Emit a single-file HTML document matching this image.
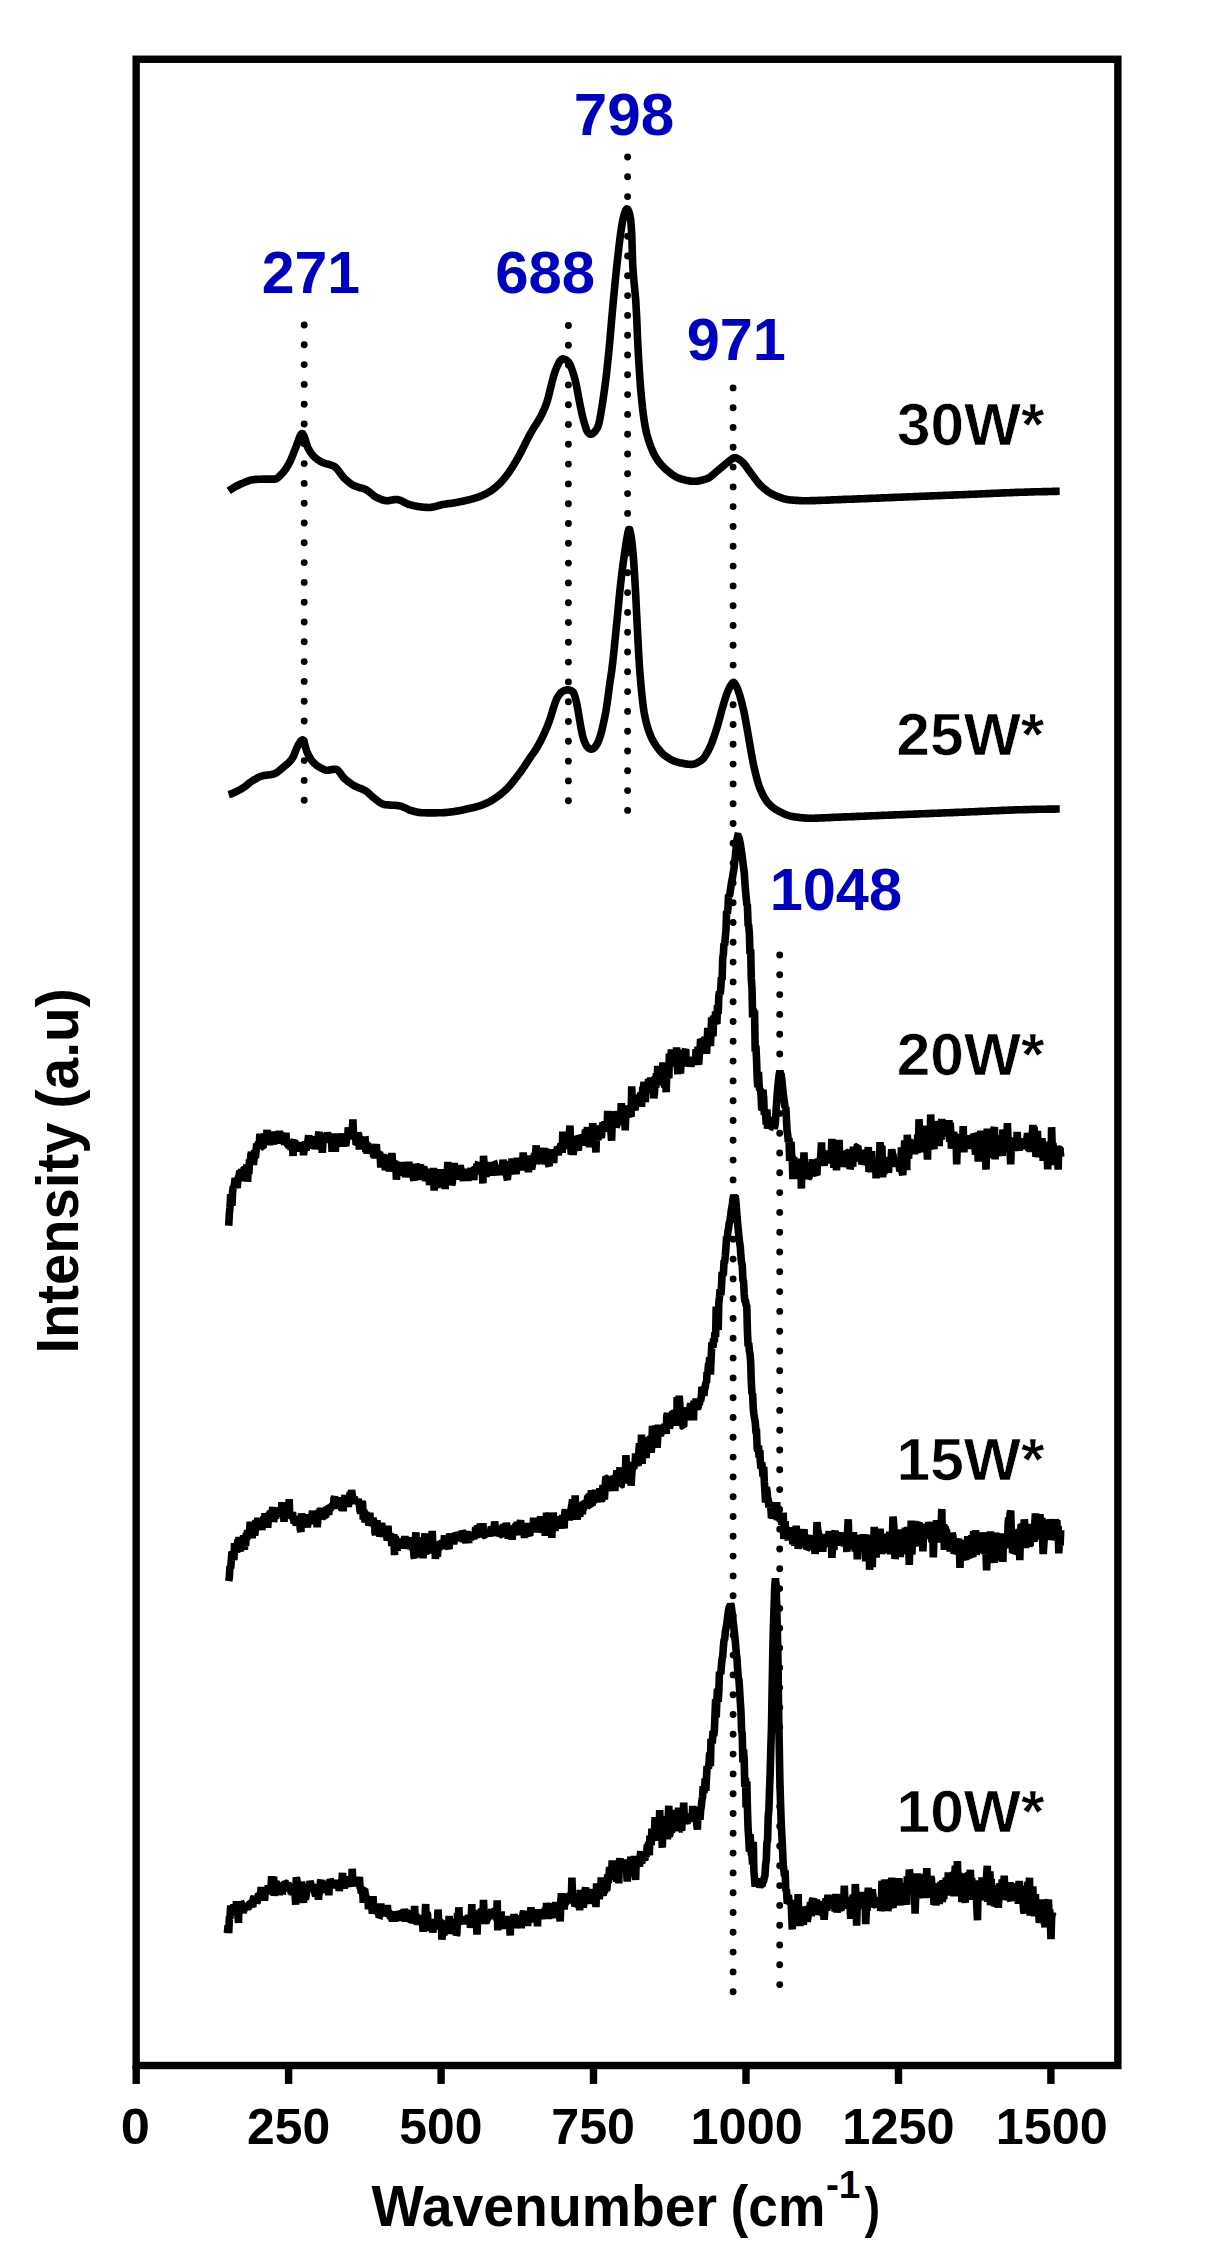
<!DOCTYPE html>
<html lang="en"><head><meta charset="utf-8"><title>Raman spectra</title>
<style>
html,body{margin:0;padding:0;background:#fff;}
svg{display:block;font-family:"Liberation Sans",sans-serif;}
</style></head><body>
<svg width="1205" height="2261" viewBox="0 0 1205 2261">
<rect x="0" y="0" width="1205" height="2261" fill="#fff"/>

<g id="guides">
<line x1="304.2" y1="325.0" x2="304.2" y2="800.21" stroke="#000" stroke-width="6.9" stroke-linecap="round" stroke-dasharray="0 19.8"/>
<line x1="568.4" y1="325.5" x2="568.4" y2="800.71" stroke="#000" stroke-width="6.9" stroke-linecap="round" stroke-dasharray="0 19.8"/>
<line x1="627.6" y1="157.0" x2="627.6" y2="810.41" stroke="#000" stroke-width="6.9" stroke-linecap="round" stroke-dasharray="0 19.8"/>
<line x1="733.1" y1="387.9" x2="733.1" y2="1991.71" stroke="#000" stroke-width="6.9" stroke-linecap="round" stroke-dasharray="0 19.8"/>
<line x1="779.7" y1="955.0" x2="779.7" y2="1984.61" stroke="#000" stroke-width="6.9" stroke-linecap="round" stroke-dasharray="0 19.8"/>
</g>
<g id="spectra" fill="none" stroke="#000" stroke-width="7.6" stroke-linejoin="round" stroke-linecap="butt">
<path d="M228.7,490.8 L229.7,490.1 L230.7,489.5 L231.7,488.9 L232.7,488.3 L233.7,487.7 L234.7,487.1 L235.7,486.5 L236.7,486.0 L237.7,485.5 L238.7,485.0 L239.7,484.5 L240.7,484.0 L241.7,483.6 L242.7,483.2 L243.7,482.8 L244.7,482.3 L245.7,481.9 L246.7,481.5 L247.7,481.1 L248.7,480.7 L249.7,480.4 L250.7,480.1 L251.7,479.9 L252.7,479.7 L253.7,479.6 L254.7,479.5 L255.7,479.4 L256.7,479.4 L257.7,479.3 L258.7,479.3 L259.7,479.2 L260.7,479.2 L261.7,479.1 L262.7,479.1 L263.7,479.1 L264.7,479.1 L265.7,479.1 L266.7,479.1 L267.7,479.1 L268.7,479.1 L269.7,479.1 L270.7,479.1 L271.7,479.1 L272.7,479.1 L273.7,479.1 L274.7,479.1 L275.7,478.9 L276.7,478.5 L277.7,477.8 L278.7,477.0 L279.7,476.0 L280.7,475.0 L281.7,473.9 L282.7,472.9 L283.7,471.7 L284.7,470.4 L285.7,469.0 L286.7,467.4 L287.7,465.8 L288.7,464.0 L289.7,462.2 L290.7,460.2 L291.7,457.8 L292.7,455.3 L293.7,452.7 L294.7,450.1 L295.7,447.7 L296.7,445.2 L297.7,442.3 L298.7,439.4 L299.7,436.8 L300.7,434.7 L301.7,433.6 L302.7,433.8 L303.7,435.4 L304.7,438.0 L305.7,441.2 L306.7,444.4 L307.7,447.2 L308.7,449.2 L309.7,451.0 L310.7,452.6 L311.7,454.0 L312.7,455.3 L313.7,456.3 L314.7,457.2 L315.7,458.1 L316.7,458.9 L317.7,459.7 L318.7,460.3 L319.7,461.0 L320.7,461.5 L321.7,462.1 L322.7,462.5 L323.7,462.9 L324.7,463.3 L325.7,463.6 L326.7,463.9 L327.7,464.1 L328.7,464.4 L329.7,464.7 L330.7,465.0 L331.7,465.3 L332.7,465.7 L333.7,466.2 L334.7,466.7 L335.7,467.5 L336.7,468.5 L337.7,469.6 L338.7,471.0 L339.7,472.4 L340.7,473.8 L341.7,475.1 L342.7,476.4 L343.7,477.6 L344.7,478.6 L345.7,479.5 L346.7,480.4 L347.7,481.2 L348.7,482.1 L349.7,482.9 L350.7,483.6 L351.7,484.3 L352.7,484.9 L353.7,485.5 L354.7,485.9 L355.7,486.3 L356.7,486.7 L357.7,487.0 L358.7,487.3 L359.7,487.6 L360.7,487.9 L361.7,488.1 L362.7,488.4 L363.7,488.7 L364.7,489.1 L365.7,489.5 L366.7,490.1 L367.7,490.7 L368.7,491.5 L369.7,492.3 L370.7,493.1 L371.7,493.9 L372.7,494.8 L373.7,495.6 L374.7,496.3 L375.7,496.9 L376.7,497.5 L377.7,497.9 L378.7,498.3 L379.7,498.8 L380.7,499.2 L381.7,499.6 L382.7,500.0 L383.7,500.3 L384.7,500.5 L385.7,500.6 L386.7,500.7 L387.7,500.7 L388.7,500.6 L389.7,500.5 L390.7,500.3 L391.7,500.1 L392.7,499.9 L393.7,499.8 L394.7,499.6 L395.7,499.5 L396.7,499.5 L397.7,499.6 L398.7,499.8 L399.7,500.1 L400.7,500.5 L401.7,500.9 L402.7,501.4 L403.7,502.0 L404.7,502.5 L405.7,503.1 L406.7,503.6 L407.7,504.0 L408.7,504.4 L409.7,504.6 L410.7,504.9 L411.7,505.2 L412.7,505.4 L413.7,505.6 L414.7,505.9 L415.7,506.1 L416.7,506.3 L417.7,506.5 L418.7,506.6 L419.7,506.8 L420.7,506.9 L421.7,507.0 L422.7,507.1 L423.7,507.2 L424.7,507.3 L425.7,507.4 L426.7,507.4 L427.7,507.5 L428.7,507.5 L429.7,507.5 L430.7,507.4 L431.7,507.3 L432.7,507.1 L433.7,506.9 L434.7,506.6 L435.7,506.4 L436.7,506.1 L437.7,505.8 L438.7,505.5 L439.7,505.2 L440.7,505.0 L441.7,504.7 L442.7,504.5 L443.7,504.4 L444.7,504.2 L445.7,504.1 L446.7,503.9 L447.7,503.8 L448.7,503.6 L449.7,503.5 L450.7,503.4 L451.7,503.2 L452.7,503.1 L453.7,502.9 L454.7,502.7 L455.7,502.6 L456.7,502.4 L457.7,502.2 L458.7,502.0 L459.7,501.8 L460.7,501.6 L461.7,501.4 L462.7,501.2 L463.7,501.0 L464.7,500.8 L465.7,500.6 L466.7,500.3 L467.7,500.1 L468.7,499.9 L469.7,499.6 L470.7,499.3 L471.7,499.1 L472.7,498.8 L473.7,498.5 L474.7,498.2 L475.7,497.9 L476.7,497.6 L477.7,497.3 L478.7,496.9 L479.7,496.5 L480.7,496.2 L481.7,495.7 L482.7,495.3 L483.7,494.8 L484.7,494.3 L485.7,493.8 L486.7,493.3 L487.7,492.7 L488.7,492.2 L489.7,491.6 L490.7,490.9 L491.7,490.3 L492.7,489.5 L493.7,488.8 L494.7,488.0 L495.7,487.2 L496.7,486.3 L497.7,485.4 L498.7,484.5 L499.7,483.5 L500.7,482.5 L501.7,481.4 L502.7,480.3 L503.7,479.1 L504.7,477.9 L505.7,476.6 L506.7,475.4 L507.7,474.0 L508.7,472.7 L509.7,471.2 L510.7,469.7 L511.7,468.2 L512.7,466.6 L513.7,465.0 L514.7,463.3 L515.7,461.7 L516.7,459.9 L517.7,458.2 L518.7,456.4 L519.7,454.5 L520.7,452.7 L521.7,450.8 L522.7,448.7 L523.7,446.7 L524.7,444.6 L525.7,442.6 L526.7,440.6 L527.7,438.7 L528.7,436.8 L529.7,434.9 L530.7,433.1 L531.7,431.4 L532.7,429.6 L533.7,427.9 L534.7,426.3 L535.7,424.8 L536.7,423.3 L537.7,421.7 L538.7,420.1 L539.7,418.3 L540.7,416.5 L541.7,414.6 L542.7,412.5 L543.7,410.3 L544.7,408.0 L545.7,405.5 L546.7,402.7 L547.7,399.5 L548.7,395.8 L549.7,391.7 L550.7,387.7 L551.7,383.6 L552.7,379.4 L553.7,375.7 L554.7,372.7 L555.7,369.9 L556.7,367.4 L557.7,365.2 L558.7,363.1 L559.7,361.3 L560.7,360.1 L561.7,359.3 L562.7,358.9 L563.7,359.0 L564.7,359.3 L565.7,359.7 L566.7,360.3 L567.7,361.2 L568.7,362.3 L569.7,363.9 L570.7,366.1 L571.7,368.8 L572.7,371.7 L573.7,374.8 L574.7,378.3 L575.7,382.2 L576.7,387.1 L577.7,392.5 L578.7,397.8 L579.7,403.0 L580.7,408.0 L581.7,412.6 L582.7,416.9 L583.7,420.8 L584.7,424.3 L585.7,427.6 L586.7,430.4 L587.7,432.1 L588.7,433.3 L589.7,434.1 L590.7,434.3 L591.7,434.0 L592.7,433.6 L593.7,432.9 L594.7,431.7 L595.7,430.5 L596.7,429.0 L597.7,427.2 L598.7,424.2 L599.7,419.8 L600.7,414.4 L601.7,408.4 L602.7,402.1 L603.7,395.1 L604.7,388.0 L605.7,380.6 L606.7,372.3 L607.7,362.6 L608.7,352.9 L609.7,342.4 L610.7,330.9 L611.7,319.1 L612.7,307.8 L613.7,297.1 L614.7,286.6 L615.7,276.5 L616.7,266.9 L617.7,257.8 L618.7,248.9 L619.7,240.4 L620.7,232.8 L621.7,226.4 L622.7,220.7 L623.7,216.0 L624.7,212.9 L625.7,210.4 L626.7,208.9 L627.7,209.3 L628.7,211.3 L629.7,214.3 L630.7,219.9 L631.7,232.7 L632.7,265.1 L633.7,279.0 L634.7,288.8 L635.7,299.7 L636.7,317.7 L637.7,341.7 L638.7,360.4 L639.7,376.3 L640.7,389.6 L641.7,400.2 L642.7,409.4 L643.7,417.4 L644.7,424.0 L645.7,429.2 L646.7,433.6 L647.7,437.4 L648.7,440.7 L649.7,443.6 L650.7,446.3 L651.7,448.8 L652.7,451.2 L653.7,453.4 L654.7,455.3 L655.7,457.1 L656.7,458.7 L657.7,460.2 L658.7,461.6 L659.7,462.9 L660.7,464.1 L661.7,465.2 L662.7,466.3 L663.7,467.3 L664.7,468.2 L665.7,469.2 L666.7,470.0 L667.7,470.9 L668.7,471.7 L669.7,472.5 L670.7,473.3 L671.7,474.1 L672.7,474.8 L673.7,475.5 L674.7,476.1 L675.7,476.7 L676.7,477.3 L677.7,477.7 L678.7,478.1 L679.7,478.5 L680.7,478.8 L681.7,479.1 L682.7,479.4 L683.7,479.6 L684.7,479.9 L685.7,480.2 L686.7,480.4 L687.7,480.6 L688.7,480.8 L689.7,481.0 L690.7,481.1 L691.7,481.2 L692.7,481.3 L693.7,481.3 L694.7,481.3 L695.7,481.2 L696.7,481.2 L697.7,481.0 L698.7,480.9 L699.7,480.7 L700.7,480.5 L701.7,480.2 L702.7,480.0 L703.7,479.7 L704.7,479.4 L705.7,479.1 L706.7,478.8 L707.7,478.4 L708.7,477.9 L709.7,477.3 L710.7,476.6 L711.7,475.8 L712.7,475.0 L713.7,474.1 L714.7,473.2 L715.7,472.3 L716.7,471.4 L717.7,470.6 L718.7,469.7 L719.7,468.9 L720.7,468.1 L721.7,467.3 L722.7,466.5 L723.7,465.6 L724.7,464.8 L725.7,463.9 L726.7,463.1 L727.7,462.3 L728.7,461.5 L729.7,460.6 L730.7,459.8 L731.7,459.1 L732.7,458.5 L733.7,458.0 L734.7,457.7 L735.7,457.7 L736.7,458.1 L737.7,458.6 L738.7,459.2 L739.7,459.8 L740.7,460.6 L741.7,461.4 L742.7,462.3 L743.7,463.3 L744.7,464.5 L745.7,465.8 L746.7,467.2 L747.7,468.6 L748.7,470.1 L749.7,471.5 L750.7,472.9 L751.7,474.2 L752.7,475.5 L753.7,476.8 L754.7,478.2 L755.7,479.5 L756.7,480.9 L757.7,482.1 L758.7,483.4 L759.7,484.5 L760.7,485.5 L761.7,486.5 L762.7,487.4 L763.7,488.2 L764.7,489.0 L765.7,489.8 L766.7,490.6 L767.7,491.3 L768.7,492.0 L769.7,492.7 L770.7,493.3 L771.7,493.9 L772.7,494.4 L773.7,494.9 L774.7,495.3 L775.7,495.7 L776.7,496.1 L777.7,496.5 L778.7,496.9 L779.7,497.3 L780.7,497.7 L781.7,498.0 L782.7,498.4 L783.7,498.7 L784.7,498.9 L785.7,499.2 L786.7,499.4 L787.7,499.6 L788.7,499.8 L789.7,499.9 L790.7,500.0 L791.7,500.0 L792.7,500.1 L793.7,500.2 L794.7,500.3 L795.7,500.4 L796.7,500.4 L797.7,500.5 L798.7,500.5 L799.7,500.6 L800.7,500.6 L801.7,500.7 L802.7,500.7 L803.7,500.7 L804.7,500.7 L805.7,500.7 L806.7,500.7 L807.7,500.7 L808.7,500.7 L809.7,500.7 L810.7,500.6 L811.7,500.6 L812.7,500.6 L813.7,500.6 L814.7,500.6 L815.7,500.5 L816.7,500.5 L817.7,500.5 L818.7,500.4 L819.7,500.4 L820.7,500.4 L821.7,500.3 L822.7,500.3 L823.7,500.3 L824.7,500.2 L825.7,500.2 L826.7,500.1 L827.7,500.1 L828.7,500.1 L829.7,500.0 L830.7,500.0 L831.7,499.9 L832.7,499.9 L833.7,499.8 L834.7,499.8 L835.7,499.8 L836.7,499.7 L837.7,499.7 L838.7,499.6 L839.7,499.6 L840.7,499.6 L841.7,499.5 L842.7,499.5 L843.7,499.4 L844.7,499.4 L845.7,499.4 L846.7,499.3 L847.7,499.3 L848.7,499.3 L849.7,499.2 L850.7,499.2 L851.7,499.2 L852.7,499.1 L853.7,499.1 L854.7,499.0 L855.7,499.0 L856.7,499.0 L857.7,498.9 L858.7,498.9 L859.7,498.8 L860.7,498.8 L861.7,498.8 L862.7,498.7 L863.7,498.7 L864.7,498.6 L865.7,498.6 L866.7,498.6 L867.7,498.5 L868.7,498.5 L869.7,498.4 L870.7,498.4 L871.7,498.4 L872.7,498.3 L873.7,498.3 L874.7,498.2 L875.7,498.2 L876.7,498.1 L877.7,498.1 L878.7,498.1 L879.7,498.0 L880.7,498.0 L881.7,497.9 L882.7,497.9 L883.7,497.9 L884.7,497.8 L885.7,497.8 L886.7,497.7 L887.7,497.7 L888.7,497.6 L889.7,497.6 L890.7,497.6 L891.7,497.5 L892.7,497.5 L893.7,497.4 L894.7,497.4 L895.7,497.4 L896.7,497.3 L897.7,497.3 L898.7,497.2 L899.7,497.2 L900.7,497.2 L901.7,497.1 L902.7,497.1 L903.7,497.0 L904.7,497.0 L905.7,497.0 L906.7,496.9 L907.7,496.9 L908.7,496.8 L909.7,496.8 L910.7,496.8 L911.7,496.7 L912.7,496.7 L913.7,496.6 L914.7,496.6 L915.7,496.6 L916.7,496.5 L917.7,496.5 L918.7,496.4 L919.7,496.4 L920.7,496.3 L921.7,496.3 L922.7,496.3 L923.7,496.2 L924.7,496.2 L925.7,496.1 L926.7,496.1 L927.7,496.1 L928.7,496.0 L929.7,496.0 L930.7,495.9 L931.7,495.9 L932.7,495.9 L933.7,495.8 L934.7,495.8 L935.7,495.7 L936.7,495.7 L937.7,495.7 L938.7,495.6 L939.7,495.6 L940.7,495.5 L941.7,495.5 L942.7,495.5 L943.7,495.4 L944.7,495.4 L945.7,495.3 L946.7,495.3 L947.7,495.3 L948.7,495.2 L949.7,495.2 L950.7,495.1 L951.7,495.1 L952.7,495.1 L953.7,495.0 L954.7,495.0 L955.7,494.9 L956.7,494.9 L957.7,494.9 L958.7,494.8 L959.7,494.8 L960.7,494.7 L961.7,494.7 L962.7,494.7 L963.7,494.6 L964.7,494.6 L965.7,494.5 L966.7,494.5 L967.7,494.5 L968.7,494.4 L969.7,494.4 L970.7,494.3 L971.7,494.3 L972.7,494.3 L973.7,494.2 L974.7,494.2 L975.7,494.1 L976.7,494.1 L977.7,494.0 L978.7,494.0 L979.7,494.0 L980.7,493.9 L981.7,493.9 L982.7,493.8 L983.7,493.8 L984.7,493.7 L985.7,493.7 L986.7,493.6 L987.7,493.6 L988.7,493.6 L989.7,493.5 L990.7,493.5 L991.7,493.4 L992.7,493.4 L993.7,493.3 L994.7,493.3 L995.7,493.2 L996.7,493.2 L997.7,493.2 L998.7,493.1 L999.7,493.1 L1000.7,493.0 L1001.7,493.0 L1002.7,492.9 L1003.7,492.9 L1004.7,492.9 L1005.7,492.8 L1006.7,492.8 L1007.7,492.7 L1008.7,492.7 L1009.7,492.7 L1010.7,492.6 L1011.7,492.6 L1012.7,492.5 L1013.7,492.5 L1014.7,492.5 L1015.7,492.4 L1016.7,492.4 L1017.7,492.4 L1018.7,492.3 L1019.7,492.3 L1020.7,492.3 L1021.7,492.2 L1022.7,492.2 L1023.7,492.2 L1024.7,492.1 L1025.7,492.1 L1026.7,492.1 L1027.7,492.0 L1028.7,492.0 L1029.7,492.0 L1030.7,492.0 L1031.7,491.9 L1032.7,491.9 L1033.7,491.9 L1034.7,491.8 L1035.7,491.8 L1036.7,491.8 L1037.7,491.8 L1038.7,491.7 L1039.7,491.7 L1040.7,491.7 L1041.7,491.7 L1042.7,491.6 L1043.7,491.6 L1044.7,491.6 L1045.7,491.6 L1046.7,491.6 L1047.7,491.5 L1048.7,491.5 L1049.7,491.5 L1050.7,491.5 L1051.7,491.5 L1052.7,491.4 L1053.7,491.4 L1054.7,491.4 L1055.7,491.4 L1056.7,491.4 L1057.7,491.3 L1058.7,491.3 L1059.7,491.3"/>
<path d="M228.7,794.6 L229.7,794.3 L230.7,794.0 L231.7,793.6 L232.7,793.2 L233.7,792.8 L234.7,792.3 L235.7,791.9 L236.7,791.4 L237.7,790.9 L238.7,790.4 L239.7,789.8 L240.7,789.3 L241.7,788.7 L242.7,788.1 L243.7,787.5 L244.7,786.8 L245.7,786.0 L246.7,785.2 L247.7,784.3 L248.7,783.5 L249.7,782.7 L250.7,782.0 L251.7,781.3 L252.7,780.7 L253.7,780.1 L254.7,779.5 L255.7,778.9 L256.7,778.3 L257.7,777.7 L258.7,777.2 L259.7,776.8 L260.7,776.4 L261.7,776.1 L262.7,775.8 L263.7,775.6 L264.7,775.4 L265.7,775.3 L266.7,775.2 L267.7,775.0 L268.7,774.9 L269.7,774.8 L270.7,774.7 L271.7,774.5 L272.7,774.3 L273.7,774.0 L274.7,773.7 L275.7,773.2 L276.7,772.6 L277.7,771.9 L278.7,771.1 L279.7,770.3 L280.7,769.5 L281.7,768.6 L282.7,767.8 L283.7,767.0 L284.7,766.1 L285.7,765.3 L286.7,764.5 L287.7,763.6 L288.7,762.6 L289.7,761.6 L290.7,760.4 L291.7,759.2 L292.7,757.7 L293.7,755.7 L294.7,753.3 L295.7,750.7 L296.7,748.2 L297.7,746.0 L298.7,744.3 L299.7,742.7 L300.7,741.2 L301.7,740.2 L302.7,739.8 L303.7,741.2 L304.7,744.3 L305.7,747.9 L306.7,751.2 L307.7,753.5 L308.7,755.5 L309.7,757.3 L310.7,759.0 L311.7,760.4 L312.7,761.6 L313.7,762.7 L314.7,763.6 L315.7,764.5 L316.7,765.4 L317.7,766.1 L318.7,766.7 L319.7,767.3 L320.7,767.9 L321.7,768.4 L322.7,768.9 L323.7,769.4 L324.7,769.8 L325.7,770.1 L326.7,770.2 L327.7,770.2 L328.7,770.1 L329.7,770.0 L330.7,769.8 L331.7,769.6 L332.7,769.5 L333.7,769.3 L334.7,769.2 L335.7,769.2 L336.7,769.4 L337.7,770.1 L338.7,771.1 L339.7,772.4 L340.7,773.8 L341.7,775.2 L342.7,776.5 L343.7,777.7 L344.7,778.7 L345.7,779.5 L346.7,780.4 L347.7,781.2 L348.7,782.0 L349.7,782.7 L350.7,783.4 L351.7,784.1 L352.7,784.8 L353.7,785.4 L354.7,786.0 L355.7,786.5 L356.7,786.9 L357.7,787.4 L358.7,787.8 L359.7,788.1 L360.7,788.5 L361.7,788.9 L362.7,789.3 L363.7,789.8 L364.7,790.3 L365.7,790.9 L366.7,791.5 L367.7,792.3 L368.7,793.2 L369.7,794.2 L370.7,795.1 L371.7,796.1 L372.7,797.0 L373.7,797.8 L374.7,798.6 L375.7,799.4 L376.7,800.1 L377.7,800.9 L378.7,801.7 L379.7,802.4 L380.7,803.0 L381.7,803.6 L382.7,804.0 L383.7,804.4 L384.7,804.6 L385.7,804.7 L386.7,804.8 L387.7,804.9 L388.7,805.0 L389.7,805.1 L390.7,805.1 L391.7,805.2 L392.7,805.2 L393.7,805.3 L394.7,805.3 L395.7,805.4 L396.7,805.5 L397.7,805.6 L398.7,805.7 L399.7,805.9 L400.7,806.1 L401.7,806.4 L402.7,806.8 L403.7,807.3 L404.7,807.7 L405.7,808.2 L406.7,808.7 L407.7,809.2 L408.7,809.7 L409.7,810.1 L410.7,810.4 L411.7,810.7 L412.7,811.0 L413.7,811.3 L414.7,811.5 L415.7,811.8 L416.7,812.0 L417.7,812.2 L418.7,812.4 L419.7,812.5 L420.7,812.6 L421.7,812.7 L422.7,812.7 L423.7,812.8 L424.7,812.8 L425.7,812.8 L426.7,812.9 L427.7,812.9 L428.7,812.9 L429.7,812.9 L430.7,812.9 L431.7,812.9 L432.7,812.9 L433.7,812.9 L434.7,812.9 L435.7,812.9 L436.7,812.8 L437.7,812.8 L438.7,812.8 L439.7,812.8 L440.7,812.7 L441.7,812.7 L442.7,812.7 L443.7,812.6 L444.7,812.6 L445.7,812.5 L446.7,812.4 L447.7,812.3 L448.7,812.2 L449.7,812.1 L450.7,812.0 L451.7,811.8 L452.7,811.7 L453.7,811.6 L454.7,811.4 L455.7,811.3 L456.7,811.1 L457.7,811.0 L458.7,810.8 L459.7,810.6 L460.7,810.4 L461.7,810.2 L462.7,809.9 L463.7,809.7 L464.7,809.5 L465.7,809.3 L466.7,809.0 L467.7,808.8 L468.7,808.6 L469.7,808.4 L470.7,808.1 L471.7,807.9 L472.7,807.7 L473.7,807.5 L474.7,807.2 L475.7,807.0 L476.7,806.7 L477.7,806.4 L478.7,806.1 L479.7,805.8 L480.7,805.5 L481.7,805.1 L482.7,804.8 L483.7,804.4 L484.7,803.9 L485.7,803.5 L486.7,803.0 L487.7,802.6 L488.7,802.1 L489.7,801.6 L490.7,801.0 L491.7,800.5 L492.7,799.9 L493.7,799.2 L494.7,798.6 L495.7,797.9 L496.7,797.2 L497.7,796.5 L498.7,795.8 L499.7,795.0 L500.7,794.2 L501.7,793.4 L502.7,792.6 L503.7,791.7 L504.7,790.8 L505.7,789.9 L506.7,788.9 L507.7,787.9 L508.7,786.8 L509.7,785.7 L510.7,784.5 L511.7,783.3 L512.7,782.1 L513.7,780.8 L514.7,779.6 L515.7,778.3 L516.7,777.0 L517.7,775.7 L518.7,774.4 L519.7,773.0 L520.7,771.7 L521.7,770.3 L522.7,768.8 L523.7,767.4 L524.7,765.9 L525.7,764.4 L526.7,762.9 L527.7,761.4 L528.7,759.9 L529.7,758.4 L530.7,756.9 L531.7,755.4 L532.7,754.0 L533.7,752.6 L534.7,751.1 L535.7,749.6 L536.7,748.0 L537.7,746.3 L538.7,744.5 L539.7,742.7 L540.7,740.7 L541.7,738.7 L542.7,736.7 L543.7,734.6 L544.7,732.4 L545.7,730.1 L546.7,727.8 L547.7,725.3 L548.7,722.7 L549.7,719.9 L550.7,716.9 L551.7,713.6 L552.7,710.3 L553.7,707.3 L554.7,704.1 L555.7,701.2 L556.7,698.8 L557.7,697.0 L558.7,695.4 L559.7,694.0 L560.7,692.9 L561.7,692.0 L562.7,691.3 L563.7,690.8 L564.7,690.4 L565.7,690.2 L566.7,689.9 L567.7,689.8 L568.7,689.8 L569.7,690.1 L570.7,690.5 L571.7,691.0 L572.7,691.8 L573.7,693.0 L574.7,695.6 L575.7,699.1 L576.7,703.2 L577.7,708.6 L578.7,714.4 L579.7,720.5 L580.7,726.3 L581.7,731.5 L582.7,736.2 L583.7,739.6 L584.7,742.2 L585.7,744.4 L586.7,746.1 L587.7,747.3 L588.7,748.2 L589.7,748.8 L590.7,749.1 L591.7,749.1 L592.7,748.8 L593.7,748.3 L594.7,747.4 L595.7,746.2 L596.7,744.7 L597.7,742.7 L598.7,740.4 L599.7,737.8 L600.7,734.8 L601.7,730.9 L602.7,726.6 L603.7,722.2 L604.7,717.6 L605.7,712.4 L606.7,706.1 L607.7,699.1 L608.7,691.7 L609.7,684.1 L610.7,677.4 L611.7,670.7 L612.7,662.5 L613.7,653.3 L614.7,643.5 L615.7,633.5 L616.7,623.6 L617.7,613.4 L618.7,602.9 L619.7,592.6 L620.7,583.2 L621.7,574.7 L622.7,566.7 L623.7,559.3 L624.7,552.2 L625.7,545.5 L626.7,539.2 L627.7,534.1 L628.7,529.6 L629.7,529.6 L630.7,534.0 L631.7,540.2 L632.7,549.2 L633.7,561.4 L634.7,576.5 L635.7,594.5 L636.7,615.6 L637.7,635.2 L638.7,654.3 L639.7,669.9 L640.7,682.0 L641.7,692.9 L642.7,702.3 L643.7,710.0 L644.7,715.6 L645.7,720.2 L646.7,724.3 L647.7,727.8 L648.7,730.8 L649.7,733.5 L650.7,736.0 L651.7,738.2 L652.7,740.2 L653.7,742.0 L654.7,743.6 L655.7,745.2 L656.7,746.6 L657.7,748.0 L658.7,749.3 L659.7,750.5 L660.7,751.7 L661.7,752.8 L662.7,753.8 L663.7,754.7 L664.7,755.5 L665.7,756.2 L666.7,756.9 L667.7,757.6 L668.7,758.2 L669.7,758.9 L670.7,759.4 L671.7,760.0 L672.7,760.4 L673.7,760.9 L674.7,761.3 L675.7,761.6 L676.7,761.9 L677.7,762.2 L678.7,762.4 L679.7,762.7 L680.7,762.9 L681.7,763.1 L682.7,763.3 L683.7,763.5 L684.7,763.7 L685.7,763.9 L686.7,764.0 L687.7,764.2 L688.7,764.3 L689.7,764.3 L690.7,764.4 L691.7,764.4 L692.7,764.3 L693.7,764.2 L694.7,763.9 L695.7,763.5 L696.7,763.1 L697.7,762.6 L698.7,762.0 L699.7,761.4 L700.7,760.8 L701.7,760.1 L702.7,759.3 L703.7,758.1 L704.7,756.8 L705.7,755.2 L706.7,753.5 L707.7,751.7 L708.7,749.8 L709.7,747.8 L710.7,745.6 L711.7,743.1 L712.7,740.4 L713.7,737.6 L714.7,734.6 L715.7,731.6 L716.7,728.5 L717.7,725.2 L718.7,721.6 L719.7,717.9 L720.7,714.2 L721.7,710.5 L722.7,707.0 L723.7,703.7 L724.7,700.3 L725.7,697.1 L726.7,694.1 L727.7,691.5 L728.7,689.2 L729.7,687.2 L730.7,685.5 L731.7,684.1 L732.7,682.8 L733.7,682.4 L734.7,683.4 L735.7,685.0 L736.7,686.9 L737.7,689.3 L738.7,692.1 L739.7,695.1 L740.7,698.6 L741.7,702.3 L742.7,706.4 L743.7,710.7 L744.7,715.4 L745.7,720.7 L746.7,726.4 L747.7,732.2 L748.7,737.9 L749.7,743.5 L750.7,749.3 L751.7,755.1 L752.7,760.6 L753.7,765.5 L754.7,769.9 L755.7,774.1 L756.7,778.0 L757.7,781.7 L758.7,785.0 L759.7,787.8 L760.7,790.2 L761.7,792.4 L762.7,794.5 L763.7,796.4 L764.7,798.1 L765.7,799.7 L766.7,801.2 L767.7,802.5 L768.7,803.6 L769.7,804.6 L770.7,805.6 L771.7,806.5 L772.7,807.3 L773.7,808.0 L774.7,808.8 L775.7,809.4 L776.7,810.0 L777.7,810.6 L778.7,811.1 L779.7,811.7 L780.7,812.2 L781.7,812.7 L782.7,813.2 L783.7,813.6 L784.7,814.1 L785.7,814.5 L786.7,814.9 L787.7,815.3 L788.7,815.6 L789.7,815.9 L790.7,816.2 L791.7,816.4 L792.7,816.5 L793.7,816.7 L794.7,816.9 L795.7,817.0 L796.7,817.1 L797.7,817.3 L798.7,817.4 L799.7,817.5 L800.7,817.7 L801.7,817.8 L802.7,817.9 L803.7,817.9 L804.7,818.0 L805.7,818.1 L806.7,818.1 L807.7,818.2 L808.7,818.2 L809.7,818.2 L810.7,818.2 L811.7,818.2 L812.7,818.2 L813.7,818.2 L814.7,818.2 L815.7,818.1 L816.7,818.1 L817.7,818.1 L818.7,818.0 L819.7,818.0 L820.7,818.0 L821.7,817.9 L822.7,817.9 L823.7,817.9 L824.7,817.8 L825.7,817.8 L826.7,817.7 L827.7,817.7 L828.7,817.6 L829.7,817.6 L830.7,817.5 L831.7,817.5 L832.7,817.4 L833.7,817.4 L834.7,817.3 L835.7,817.3 L836.7,817.2 L837.7,817.2 L838.7,817.1 L839.7,817.1 L840.7,817.1 L841.7,817.0 L842.7,817.0 L843.7,816.9 L844.7,816.9 L845.7,816.9 L846.7,816.8 L847.7,816.8 L848.7,816.7 L849.7,816.7 L850.7,816.7 L851.7,816.6 L852.7,816.6 L853.7,816.6 L854.7,816.5 L855.7,816.5 L856.7,816.4 L857.7,816.4 L858.7,816.4 L859.7,816.3 L860.7,816.3 L861.7,816.2 L862.7,816.2 L863.7,816.2 L864.7,816.1 L865.7,816.1 L866.7,816.0 L867.7,816.0 L868.7,816.0 L869.7,815.9 L870.7,815.9 L871.7,815.8 L872.7,815.8 L873.7,815.7 L874.7,815.7 L875.7,815.7 L876.7,815.6 L877.7,815.6 L878.7,815.5 L879.7,815.5 L880.7,815.5 L881.7,815.4 L882.7,815.4 L883.7,815.3 L884.7,815.3 L885.7,815.3 L886.7,815.2 L887.7,815.2 L888.7,815.1 L889.7,815.1 L890.7,815.1 L891.7,815.0 L892.7,815.0 L893.7,814.9 L894.7,814.9 L895.7,814.9 L896.7,814.8 L897.7,814.8 L898.7,814.7 L899.7,814.7 L900.7,814.7 L901.7,814.6 L902.7,814.6 L903.7,814.5 L904.7,814.5 L905.7,814.5 L906.7,814.4 L907.7,814.4 L908.7,814.3 L909.7,814.3 L910.7,814.3 L911.7,814.2 L912.7,814.2 L913.7,814.1 L914.7,814.1 L915.7,814.1 L916.7,814.0 L917.7,814.0 L918.7,813.9 L919.7,813.9 L920.7,813.8 L921.7,813.8 L922.7,813.8 L923.7,813.7 L924.7,813.7 L925.7,813.6 L926.7,813.6 L927.7,813.6 L928.7,813.5 L929.7,813.5 L930.7,813.4 L931.7,813.4 L932.7,813.4 L933.7,813.3 L934.7,813.3 L935.7,813.2 L936.7,813.2 L937.7,813.2 L938.7,813.1 L939.7,813.1 L940.7,813.0 L941.7,813.0 L942.7,813.0 L943.7,812.9 L944.7,812.9 L945.7,812.8 L946.7,812.8 L947.7,812.8 L948.7,812.7 L949.7,812.7 L950.7,812.6 L951.7,812.6 L952.7,812.6 L953.7,812.5 L954.7,812.5 L955.7,812.4 L956.7,812.4 L957.7,812.4 L958.7,812.3 L959.7,812.3 L960.7,812.2 L961.7,812.2 L962.7,812.2 L963.7,812.1 L964.7,812.1 L965.7,812.0 L966.7,812.0 L967.7,812.0 L968.7,811.9 L969.7,811.9 L970.7,811.8 L971.7,811.8 L972.7,811.7 L973.7,811.7 L974.7,811.7 L975.7,811.6 L976.7,811.6 L977.7,811.5 L978.7,811.5 L979.7,811.4 L980.7,811.4 L981.7,811.3 L982.7,811.3 L983.7,811.3 L984.7,811.2 L985.7,811.2 L986.7,811.1 L987.7,811.1 L988.7,811.0 L989.7,811.0 L990.7,810.9 L991.7,810.9 L992.7,810.8 L993.7,810.8 L994.7,810.8 L995.7,810.7 L996.7,810.7 L997.7,810.6 L998.7,810.6 L999.7,810.5 L1000.7,810.5 L1001.7,810.4 L1002.7,810.4 L1003.7,810.4 L1004.7,810.3 L1005.7,810.3 L1006.7,810.2 L1007.7,810.2 L1008.7,810.1 L1009.7,810.1 L1010.7,810.1 L1011.7,810.0 L1012.7,810.0 L1013.7,810.0 L1014.7,809.9 L1015.7,809.9 L1016.7,809.8 L1017.7,809.8 L1018.7,809.8 L1019.7,809.8 L1020.7,809.7 L1021.7,809.7 L1022.7,809.7 L1023.7,809.6 L1024.7,809.6 L1025.7,809.6 L1026.7,809.6 L1027.7,809.5 L1028.7,809.5 L1029.7,809.5 L1030.7,809.5 L1031.7,809.4 L1032.7,809.4 L1033.7,809.4 L1034.7,809.4 L1035.7,809.4 L1036.7,809.3 L1037.7,809.3 L1038.7,809.3 L1039.7,809.3 L1040.7,809.3 L1041.7,809.2 L1042.7,809.2 L1043.7,809.2 L1044.7,809.2 L1045.7,809.2 L1046.7,809.2 L1047.7,809.1 L1048.7,809.1 L1049.7,809.1 L1050.7,809.1 L1051.7,809.1 L1052.7,809.1 L1053.7,809.1 L1054.7,809.1 L1055.7,809.0 L1056.7,809.0 L1057.7,809.0 L1058.7,809.0 L1059.7,809.0"/>
</g>
<g id="spectra-noisy" fill="none" stroke="#000" stroke-width="7.6" stroke-linejoin="miter" stroke-miterlimit="1.6" stroke-linecap="butt">
<path d="M228.7,1225.7 L229.3,1214.0 L230.0,1207.3 L230.7,1194.1 L231.3,1197.2 L232.0,1205.8 L232.6,1191.7 L233.3,1186.6 L233.9,1186.9 L234.6,1183.1 L235.2,1178.0 L235.9,1186.4 L236.5,1185.4 L237.2,1188.0 L237.8,1179.9 L238.5,1177.2 L239.1,1175.9 L239.8,1170.9 L240.4,1181.3 L241.1,1171.5 L241.7,1170.4 L242.4,1173.9 L243.0,1180.4 L243.7,1174.0 L244.3,1167.4 L245.0,1167.7 L245.6,1172.5 L246.3,1176.5 L246.9,1164.5 L247.6,1181.7 L248.2,1169.4 L248.9,1174.1 L249.5,1159.3 L250.2,1164.0 L250.8,1155.4 L251.5,1152.1 L252.1,1157.8 L252.8,1156.5 L253.4,1164.9 L254.1,1158.2 L254.7,1150.0 L255.4,1158.1 L256.0,1151.7 L256.7,1143.5 L257.3,1146.6 L258.0,1144.8 L258.6,1142.0 L259.3,1144.7 L259.9,1133.8 L260.6,1141.8 L261.2,1146.8 L261.9,1145.5 L262.5,1146.1 L263.2,1145.6 L263.8,1134.0 L264.5,1134.8 L265.1,1143.1 L265.8,1133.6 L266.4,1136.0 L267.1,1130.0 L267.7,1142.8 L268.4,1143.8 L269.0,1136.8 L269.7,1145.2 L270.3,1134.1 L271.0,1137.5 L271.6,1137.3 L272.3,1131.7 L272.9,1138.2 L273.6,1144.6 L274.2,1131.3 L274.9,1139.7 L275.5,1135.0 L276.2,1143.5 L276.8,1137.9 L277.5,1132.5 L278.1,1138.9 L278.8,1137.5 L279.4,1130.8 L280.1,1143.8 L280.7,1132.3 L281.4,1140.3 L282.0,1142.9 L282.7,1137.4 L283.3,1142.7 L284.0,1142.3 L284.6,1144.0 L285.3,1141.0 L285.9,1132.7 L286.6,1141.8 L287.2,1143.8 L287.9,1144.3 L288.5,1142.4 L289.2,1148.4 L289.8,1144.2 L290.5,1146.2 L291.1,1149.7 L291.8,1142.7 L292.4,1145.1 L293.1,1155.9 L293.7,1141.4 L294.4,1140.2 L295.0,1145.5 L295.7,1148.4 L296.3,1151.3 L297.0,1146.5 L297.6,1143.6 L298.3,1142.8 L298.9,1149.1 L299.6,1147.8 L300.2,1144.2 L300.9,1145.7 L301.5,1144.7 L302.2,1149.8 L302.8,1143.3 L303.5,1155.2 L304.1,1149.7 L304.8,1147.7 L305.4,1141.4 L306.1,1150.7 L306.7,1141.2 L307.4,1145.7 L308.0,1140.0 L308.7,1135.2 L309.3,1143.7 L310.0,1143.7 L310.6,1141.8 L311.3,1143.0 L311.9,1138.5 L312.6,1137.8 L313.2,1139.9 L313.9,1148.8 L314.5,1143.5 L315.2,1149.2 L315.8,1141.5 L316.5,1136.5 L317.1,1149.0 L317.8,1141.7 L318.4,1135.2 L319.1,1131.9 L319.7,1143.2 L320.4,1137.5 L321.0,1137.6 L321.7,1142.5 L322.3,1152.9 L323.0,1140.3 L323.6,1139.0 L324.3,1136.5 L324.9,1141.0 L325.6,1139.6 L326.2,1133.6 L326.9,1143.0 L327.5,1132.1 L328.2,1137.9 L328.8,1137.7 L329.5,1139.6 L330.1,1134.6 L330.8,1137.8 L331.4,1137.5 L332.1,1151.9 L332.7,1135.0 L333.4,1139.1 L334.0,1137.9 L334.7,1133.5 L335.3,1151.7 L336.0,1139.6 L336.6,1133.5 L337.3,1146.8 L337.9,1135.9 L338.6,1142.6 L339.2,1145.0 L339.9,1138.3 L340.5,1139.3 L341.2,1138.7 L341.8,1140.4 L342.5,1133.3 L343.1,1146.6 L343.8,1139.1 L344.4,1143.9 L345.1,1141.5 L345.7,1145.9 L346.4,1140.8 L347.0,1134.9 L347.7,1136.3 L348.3,1127.4 L349.0,1131.9 L349.6,1131.5 L350.3,1137.2 L350.9,1138.7 L351.6,1133.1 L352.2,1132.9 L352.9,1119.5 L353.5,1134.9 L354.2,1136.6 L354.8,1137.5 L355.5,1135.9 L356.1,1144.5 L356.8,1143.9 L357.4,1135.2 L358.1,1133.5 L358.7,1134.7 L359.4,1149.5 L360.0,1137.0 L360.7,1139.8 L361.3,1141.7 L362.0,1145.1 L362.6,1144.8 L363.3,1139.9 L363.9,1142.9 L364.6,1140.2 L365.2,1140.1 L365.9,1152.1 L366.5,1142.1 L367.2,1153.8 L367.8,1143.7 L368.5,1147.1 L369.1,1151.4 L369.8,1147.2 L370.4,1149.4 L371.1,1147.1 L371.7,1146.5 L372.4,1148.4 L373.0,1146.6 L373.7,1157.3 L374.3,1149.5 L375.0,1158.4 L375.6,1147.5 L376.3,1144.2 L376.9,1154.3 L377.6,1150.9 L378.2,1157.6 L378.9,1156.0 L379.5,1152.3 L380.2,1156.1 L380.8,1167.5 L381.5,1156.4 L382.1,1157.2 L382.8,1154.5 L383.4,1157.7 L384.1,1155.3 L384.7,1157.4 L385.4,1170.2 L386.0,1164.5 L386.7,1163.1 L387.3,1165.8 L388.0,1169.9 L388.6,1164.4 L389.3,1171.5 L389.9,1167.3 L390.6,1163.6 L391.2,1171.1 L391.9,1153.0 L392.5,1161.6 L393.2,1166.0 L393.8,1161.2 L394.5,1165.2 L395.1,1163.5 L395.8,1163.9 L396.4,1179.7 L397.1,1170.5 L397.7,1167.7 L398.4,1174.1 L399.0,1167.0 L399.7,1172.2 L400.3,1169.8 L401.0,1175.6 L401.6,1161.8 L402.3,1172.0 L402.9,1169.3 L403.6,1163.8 L404.2,1174.2 L404.9,1165.7 L405.5,1177.3 L406.2,1172.5 L406.8,1173.4 L407.5,1170.7 L408.1,1174.4 L408.8,1161.7 L409.4,1170.5 L410.1,1173.5 L410.7,1171.2 L411.4,1169.6 L412.0,1172.6 L412.7,1165.9 L413.3,1178.2 L414.0,1180.5 L414.6,1169.1 L415.3,1163.8 L415.9,1171.8 L416.6,1176.5 L417.2,1179.7 L417.9,1165.7 L418.5,1168.6 L419.2,1166.8 L419.8,1166.8 L420.5,1164.6 L421.1,1174.0 L421.8,1167.2 L422.4,1179.7 L423.1,1177.2 L423.7,1168.7 L424.4,1169.1 L425.0,1171.5 L425.7,1181.3 L426.3,1171.5 L427.0,1169.1 L427.6,1176.2 L428.3,1178.6 L428.9,1174.3 L429.6,1185.1 L430.2,1179.0 L430.9,1180.2 L431.5,1174.3 L432.2,1178.2 L432.8,1177.6 L433.5,1167.9 L434.1,1190.6 L434.8,1170.1 L435.4,1178.3 L436.1,1171.6 L436.7,1187.8 L437.4,1180.2 L438.0,1182.8 L438.7,1183.4 L439.3,1173.4 L440.0,1169.3 L440.6,1178.6 L441.3,1184.6 L441.9,1181.1 L442.6,1184.4 L443.2,1185.0 L443.9,1173.6 L444.5,1181.6 L445.2,1189.0 L445.8,1176.9 L446.5,1169.7 L447.1,1177.6 L447.8,1162.0 L448.4,1179.9 L449.1,1173.7 L449.7,1178.1 L450.4,1182.0 L451.0,1180.7 L451.7,1184.7 L452.3,1183.3 L453.0,1170.1 L453.6,1178.4 L454.3,1162.9 L454.9,1177.7 L455.6,1175.9 L456.2,1171.2 L456.9,1177.1 L457.5,1175.8 L458.2,1179.3 L458.8,1175.2 L459.5,1175.5 L460.1,1165.2 L460.8,1168.7 L461.4,1171.8 L462.1,1175.4 L462.7,1174.1 L463.4,1181.1 L464.0,1170.2 L464.7,1173.1 L465.3,1169.1 L466.0,1173.2 L466.6,1176.6 L467.3,1171.6 L467.9,1180.8 L468.6,1172.7 L469.2,1179.5 L469.9,1174.2 L470.5,1173.4 L471.2,1168.0 L471.8,1173.8 L472.5,1172.5 L473.1,1175.6 L473.8,1180.0 L474.4,1169.0 L475.1,1167.8 L475.7,1168.9 L476.4,1174.3 L477.0,1163.8 L477.7,1172.5 L478.3,1165.5 L479.0,1165.7 L479.6,1168.8 L480.3,1171.9 L480.9,1166.8 L481.6,1167.0 L482.2,1168.7 L482.9,1183.5 L483.5,1155.8 L484.2,1166.0 L484.8,1168.1 L485.5,1172.6 L486.1,1176.9 L486.8,1170.2 L487.4,1167.3 L488.1,1162.1 L488.7,1166.9 L489.4,1170.1 L490.0,1172.3 L490.7,1162.1 L491.3,1166.2 L492.0,1170.3 L492.6,1175.6 L493.3,1168.3 L493.9,1164.9 L494.6,1164.6 L495.2,1166.6 L495.9,1165.6 L496.5,1172.9 L497.2,1174.2 L497.8,1172.6 L498.5,1174.8 L499.1,1166.9 L499.8,1170.8 L500.4,1167.0 L501.1,1168.9 L501.7,1174.5 L502.4,1172.9 L503.0,1159.6 L503.7,1167.4 L504.3,1165.3 L505.0,1161.5 L505.6,1165.0 L506.3,1173.5 L506.9,1176.9 L507.6,1176.8 L508.2,1173.1 L508.9,1173.6 L509.5,1161.9 L510.2,1167.1 L510.8,1166.7 L511.5,1167.5 L512.1,1158.5 L512.8,1168.0 L513.4,1170.8 L514.1,1171.5 L514.7,1174.1 L515.4,1163.2 L516.0,1173.9 L516.7,1168.7 L517.3,1157.8 L518.0,1168.2 L518.6,1162.7 L519.3,1167.0 L519.9,1163.9 L520.6,1170.3 L521.2,1165.5 L521.9,1162.7 L522.5,1168.7 L523.2,1152.5 L523.8,1161.5 L524.5,1169.7 L525.1,1161.2 L525.8,1160.0 L526.4,1160.4 L527.1,1155.8 L527.7,1160.3 L528.4,1172.3 L529.0,1163.0 L529.7,1162.7 L530.3,1156.8 L531.0,1158.9 L531.6,1169.3 L532.3,1165.8 L532.9,1157.8 L533.6,1160.6 L534.2,1156.2 L534.9,1156.1 L535.5,1155.2 L536.2,1145.3 L536.8,1161.1 L537.5,1162.3 L538.1,1161.6 L538.8,1158.1 L539.4,1151.8 L540.1,1158.1 L540.7,1153.5 L541.4,1162.4 L542.0,1160.5 L542.7,1161.3 L543.3,1155.6 L544.0,1147.9 L544.6,1161.8 L545.3,1162.9 L545.9,1148.8 L546.6,1156.9 L547.2,1162.0 L547.9,1150.1 L548.5,1164.5 L549.2,1166.2 L549.8,1149.4 L550.5,1161.8 L551.1,1156.1 L551.8,1150.9 L552.4,1158.6 L553.1,1150.5 L553.7,1163.1 L554.4,1149.2 L555.0,1154.6 L555.7,1150.7 L556.3,1154.7 L557.0,1148.9 L557.6,1147.4 L558.3,1155.3 L558.9,1149.2 L559.6,1146.6 L560.2,1148.4 L560.9,1143.8 L561.5,1144.2 L562.2,1152.8 L562.8,1131.6 L563.5,1141.4 L564.1,1148.3 L564.8,1140.1 L565.4,1135.1 L566.1,1141.1 L566.7,1145.7 L567.4,1144.1 L568.0,1139.5 L568.7,1149.0 L569.3,1134.2 L570.0,1125.6 L570.6,1143.6 L571.3,1154.4 L571.9,1145.2 L572.6,1136.9 L573.2,1155.0 L573.9,1145.3 L574.5,1146.4 L575.2,1138.8 L575.8,1136.3 L576.5,1140.9 L577.1,1142.2 L577.8,1148.3 L578.4,1150.7 L579.1,1135.5 L579.7,1136.4 L580.4,1138.8 L581.0,1137.6 L581.7,1141.4 L582.3,1144.4 L583.0,1140.0 L583.6,1145.7 L584.3,1137.5 L584.9,1135.2 L585.6,1129.6 L586.2,1132.3 L586.9,1132.0 L587.5,1127.3 L588.2,1140.9 L588.8,1138.2 L589.5,1147.2 L590.1,1131.8 L590.8,1127.7 L591.4,1131.0 L592.1,1145.6 L592.7,1123.1 L593.4,1135.6 L594.0,1138.5 L594.7,1134.8 L595.3,1142.9 L596.0,1152.5 L596.6,1127.0 L597.3,1135.7 L597.9,1140.2 L598.6,1126.2 L599.2,1127.0 L599.9,1131.9 L600.5,1136.2 L601.2,1137.7 L601.8,1133.6 L602.5,1125.7 L603.1,1122.7 L603.8,1129.8 L604.4,1130.2 L605.1,1121.3 L605.7,1127.2 L606.4,1128.2 L607.0,1131.6 L607.7,1111.0 L608.3,1127.7 L609.0,1117.4 L609.6,1121.0 L610.3,1122.4 L610.9,1131.0 L611.6,1140.7 L612.2,1122.7 L612.9,1123.6 L613.5,1126.0 L614.2,1111.8 L614.8,1123.4 L615.5,1111.2 L616.1,1127.1 L616.8,1125.4 L617.4,1119.3 L618.1,1111.0 L618.7,1124.8 L619.4,1116.1 L620.0,1114.8 L620.7,1117.1 L621.3,1103.1 L622.0,1115.3 L622.6,1118.2 L623.3,1113.9 L623.9,1112.3 L624.6,1110.8 L625.2,1130.4 L625.9,1111.1 L626.5,1109.5 L627.2,1105.7 L627.8,1114.1 L628.5,1108.6 L629.1,1110.2 L629.8,1113.0 L630.4,1115.3 L631.1,1116.7 L631.7,1086.4 L632.4,1105.0 L633.0,1103.3 L633.7,1107.8 L634.3,1108.3 L635.0,1110.2 L635.6,1101.3 L636.3,1104.3 L636.9,1096.6 L637.6,1100.4 L638.2,1098.9 L638.9,1102.6 L639.5,1094.8 L640.2,1096.4 L640.8,1092.8 L641.5,1106.7 L642.1,1097.3 L642.8,1087.2 L643.4,1087.4 L644.1,1081.9 L644.7,1095.7 L645.4,1102.2 L646.0,1082.2 L646.7,1085.1 L647.3,1089.5 L648.0,1086.2 L648.6,1079.1 L649.3,1084.0 L649.9,1093.2 L650.6,1077.5 L651.2,1088.1 L651.9,1092.1 L652.5,1091.4 L653.2,1081.4 L653.8,1098.3 L654.5,1092.0 L655.1,1076.5 L655.8,1087.5 L656.4,1073.1 L657.1,1085.7 L657.7,1065.8 L658.4,1083.9 L659.0,1074.3 L659.7,1085.1 L660.3,1081.9 L661.0,1079.3 L661.6,1076.1 L662.3,1082.3 L662.9,1062.3 L663.6,1076.5 L664.2,1075.7 L664.9,1087.5 L665.5,1077.1 L666.2,1092.2 L666.8,1070.9 L667.5,1074.8 L668.1,1069.7 L668.8,1078.4 L669.4,1053.6 L670.1,1063.6 L670.7,1060.9 L671.4,1049.6 L672.0,1056.8 L672.7,1062.2 L673.3,1064.1 L674.0,1062.1 L674.6,1058.7 L675.3,1061.5 L675.9,1061.2 L676.6,1047.4 L677.2,1064.9 L677.9,1074.1 L678.5,1059.3 L679.2,1049.8 L679.8,1053.6 L680.5,1073.5 L681.1,1058.4 L681.8,1058.0 L682.4,1056.8 L683.1,1066.4 L683.7,1057.7 L684.4,1055.4 L685.0,1050.8 L685.7,1049.1 L686.3,1066.3 L687.0,1058.4 L687.6,1065.0 L688.3,1060.2 L688.9,1060.1 L689.6,1060.4 L690.2,1059.7 L690.9,1066.5 L691.5,1063.4 L692.2,1056.8 L692.8,1061.7 L693.5,1060.4 L694.1,1063.9 L694.8,1061.4 L695.4,1062.3 L696.1,1049.1 L696.7,1060.1 L697.4,1065.0 L698.0,1046.6 L698.7,1064.6 L699.3,1055.1 L700.0,1050.7 L700.6,1039.3 L701.3,1040.2 L701.9,1042.9 L702.6,1045.0 L703.2,1051.0 L703.9,1040.1 L704.5,1039.5 L705.2,1037.5 L705.8,1043.1 L706.5,1053.8 L707.1,1044.0 L707.8,1027.9 L708.4,1036.3 L709.1,1037.8 L709.7,1030.7 L710.4,1046.1 L711.0,1033.6 L711.7,1017.3 L712.3,1021.2 L713.0,1036.4 L713.6,1015.7 L714.3,1019.8 L714.9,1023.1 L715.6,1011.4 L716.2,1022.7 L716.9,1023.9 L717.5,1005.0 L718.2,1013.8 L718.8,996.9 L719.5,991.5 L720.1,994.2 L720.8,988.5 L721.4,977.3 L722.1,980.1 L722.7,958.6 L723.4,953.8 L724.0,943.1 L724.7,945.3 L725.3,937.3 L726.0,929.5 L726.6,910.8 L727.3,913.5 L727.9,909.3 L728.6,894.4 L729.2,896.3 L729.9,893.9 L730.5,889.5 L731.2,884.6 L731.8,881.2 L732.5,877.4 L733.1,873.7 L733.8,869.6 L734.4,864.6 L735.1,859.1 L735.7,851.7 L736.4,846.6 L737.0,839.4 L737.7,836.3 L738.3,836.4 L739.0,837.9 L739.6,840.2 L740.3,844.0 L740.9,847.5 L741.6,852.5 L742.2,856.2 L742.9,862.0 L743.5,867.4 L744.2,871.6 L744.8,881.4 L745.5,890.3 L746.1,896.9 L746.8,904.2 L747.4,905.6 L748.1,924.7 L748.7,925.7 L749.4,933.5 L750.0,954.1 L750.7,949.6 L751.3,978.7 L752.0,988.2 L752.6,1017.5 L753.3,1009.0 L753.9,1013.7 L754.6,1013.8 L755.2,1051.7 L755.9,1045.8 L756.5,1058.6 L757.2,1078.6 L757.8,1087.2 L758.5,1071.9 L759.1,1085.1 L759.8,1090.3 L760.4,1089.0 L761.1,1095.4 L761.7,1110.2 L762.4,1109.5 L763.0,1089.8 L763.7,1098.5 L764.3,1114.6 L765.0,1113.9 L765.6,1114.2 L766.3,1124.5 L766.9,1109.3 L767.6,1128.7 L768.2,1123.7 L768.9,1127.2 L769.5,1126.2 L770.2,1126.4 L770.8,1123.6 L771.5,1116.8 L772.1,1128.7 L772.8,1124.0 L773.4,1120.2 L774.1,1128.3 L774.7,1126.8 L775.4,1123.0 L776.0,1111.8 L776.7,1101.3 L777.3,1092.6 L778.0,1085.2 L778.6,1079.2 L779.3,1073.9 L779.9,1070.8 L780.6,1073.6 L781.2,1074.8 L781.9,1080.5 L782.5,1086.5 L783.2,1093.6 L783.8,1097.7 L784.5,1103.2 L785.1,1107.8 L785.8,1107.2 L786.4,1118.2 L787.1,1130.9 L787.7,1134.7 L788.4,1142.1 L789.0,1138.0 L789.7,1161.0 L790.3,1144.7 L791.0,1141.8 L791.6,1154.6 L792.3,1159.5 L792.9,1179.2 L793.6,1157.0 L794.2,1168.0 L794.9,1175.9 L795.5,1162.3 L796.2,1170.6 L796.8,1158.8 L797.5,1170.4 L798.1,1174.3 L798.8,1174.1 L799.4,1174.7 L800.1,1178.2 L800.7,1164.2 L801.4,1188.7 L802.0,1165.1 L802.7,1166.1 L803.3,1169.6 L804.0,1152.4 L804.6,1174.2 L805.3,1178.9 L805.9,1173.3 L806.6,1166.5 L807.2,1166.4 L807.9,1178.8 L808.5,1177.6 L809.2,1176.6 L809.8,1168.1 L810.5,1169.5 L811.1,1175.3 L811.8,1165.0 L812.4,1159.3 L813.1,1176.1 L813.7,1168.3 L814.4,1170.9 L815.0,1165.9 L815.7,1170.2 L816.3,1172.5 L817.0,1172.3 L817.6,1161.3 L818.3,1159.7 L818.9,1163.3 L819.6,1161.0 L820.2,1162.2 L820.9,1153.4 L821.5,1142.5 L822.2,1159.2 L822.8,1160.8 L823.5,1159.6 L824.1,1165.8 L824.8,1156.5 L825.4,1152.7 L826.1,1151.4 L826.7,1159.5 L827.4,1163.2 L828.0,1156.6 L828.7,1157.9 L829.3,1155.9 L830.0,1154.5 L830.6,1153.5 L831.3,1153.9 L831.9,1138.8 L832.6,1156.8 L833.2,1160.3 L833.9,1167.7 L834.5,1157.4 L835.2,1151.1 L835.8,1146.3 L836.5,1170.5 L837.1,1149.3 L837.8,1165.4 L838.4,1153.0 L839.1,1139.8 L839.7,1165.5 L840.4,1163.2 L841.0,1160.7 L841.7,1155.3 L842.3,1154.4 L843.0,1166.9 L843.6,1162.6 L844.3,1156.8 L844.9,1160.1 L845.6,1151.9 L846.2,1152.2 L846.9,1165.8 L847.5,1151.5 L848.2,1157.0 L848.8,1163.1 L849.5,1151.0 L850.1,1169.2 L850.8,1165.4 L851.4,1153.0 L852.1,1161.8 L852.7,1166.7 L853.4,1146.7 L854.0,1160.0 L854.7,1154.9 L855.3,1154.6 L856.0,1161.3 L856.6,1153.0 L857.3,1146.5 L857.9,1146.2 L858.6,1156.0 L859.2,1160.4 L859.9,1155.5 L860.5,1154.3 L861.2,1155.0 L861.8,1164.3 L862.5,1162.6 L863.1,1149.9 L863.8,1153.6 L864.4,1164.8 L865.1,1152.5 L865.7,1154.4 L866.4,1157.8 L867.0,1151.0 L867.7,1151.7 L868.3,1147.2 L869.0,1171.9 L869.6,1158.9 L870.3,1153.6 L870.9,1172.5 L871.6,1151.1 L872.2,1167.8 L872.9,1169.4 L873.5,1159.2 L874.2,1160.3 L874.8,1170.0 L875.5,1157.6 L876.1,1178.3 L876.8,1164.5 L877.4,1173.4 L878.1,1157.8 L878.7,1161.8 L879.4,1170.1 L880.0,1142.2 L880.7,1159.7 L881.3,1147.4 L882.0,1148.1 L882.6,1177.3 L883.3,1164.1 L883.9,1174.0 L884.6,1160.8 L885.2,1166.8 L885.9,1159.1 L886.5,1158.0 L887.2,1161.2 L887.8,1162.4 L888.5,1172.9 L889.1,1159.1 L889.8,1163.3 L890.4,1158.0 L891.1,1160.9 L891.7,1149.3 L892.4,1153.4 L893.0,1155.2 L893.7,1159.5 L894.3,1157.3 L895.0,1166.7 L895.6,1162.8 L896.3,1165.1 L896.9,1159.6 L897.6,1160.8 L898.2,1164.0 L898.9,1162.0 L899.5,1168.3 L900.2,1171.1 L900.8,1165.9 L901.5,1147.4 L902.1,1172.1 L902.8,1175.1 L903.4,1154.7 L904.1,1154.0 L904.7,1140.5 L905.4,1162.9 L906.0,1147.9 L906.7,1170.1 L907.3,1134.7 L908.0,1156.5 L908.6,1158.6 L909.3,1139.1 L909.9,1145.2 L910.6,1152.9 L911.2,1146.0 L911.9,1146.9 L912.5,1148.9 L913.2,1144.2 L913.8,1146.5 L914.5,1154.2 L915.1,1148.3 L915.8,1148.3 L916.4,1140.3 L917.1,1153.1 L917.7,1134.6 L918.4,1152.0 L919.0,1119.2 L919.7,1135.7 L920.3,1129.7 L921.0,1150.3 L921.6,1144.0 L922.3,1131.1 L922.9,1136.9 L923.6,1152.2 L924.2,1140.9 L924.9,1145.9 L925.5,1129.2 L926.2,1129.2 L926.8,1145.8 L927.5,1159.6 L928.1,1134.5 L928.8,1145.2 L929.4,1132.5 L930.1,1149.9 L930.7,1114.5 L931.4,1135.7 L932.0,1123.7 L932.7,1135.3 L933.3,1139.8 L934.0,1149.1 L934.6,1128.2 L935.3,1145.2 L935.9,1134.1 L936.6,1134.0 L937.2,1137.4 L937.9,1121.1 L938.5,1124.1 L939.2,1146.1 L939.8,1122.5 L940.5,1127.8 L941.1,1139.6 L941.8,1118.9 L942.4,1134.9 L943.1,1125.5 L943.7,1131.1 L944.4,1136.6 L945.0,1128.4 L945.7,1128.1 L946.3,1135.6 L947.0,1135.0 L947.6,1124.2 L948.3,1128.8 L948.9,1120.0 L949.6,1141.9 L950.2,1122.6 L950.9,1134.8 L951.5,1148.6 L952.2,1142.2 L952.8,1134.7 L953.5,1132.5 L954.1,1134.6 L954.8,1148.2 L955.4,1144.6 L956.1,1141.2 L956.7,1164.5 L957.4,1137.3 L958.0,1140.5 L958.7,1141.9 L959.3,1147.1 L960.0,1148.2 L960.6,1134.0 L961.3,1148.8 L961.9,1150.5 L962.6,1143.6 L963.2,1126.1 L963.9,1152.3 L964.5,1138.0 L965.2,1140.3 L965.8,1144.4 L966.5,1135.5 L967.1,1139.0 L967.8,1146.2 L968.4,1143.1 L969.1,1148.7 L969.7,1139.3 L970.4,1144.4 L971.0,1137.7 L971.7,1143.8 L972.3,1148.2 L973.0,1143.7 L973.6,1133.9 L974.3,1135.1 L974.9,1146.6 L975.6,1154.6 L976.2,1145.1 L976.9,1133.0 L977.5,1136.0 L978.2,1161.7 L978.8,1138.0 L979.5,1136.6 L980.1,1144.4 L980.8,1130.7 L981.4,1153.9 L982.1,1146.4 L982.7,1148.6 L983.4,1136.5 L984.0,1140.1 L984.7,1151.0 L985.3,1151.2 L986.0,1169.7 L986.6,1144.4 L987.3,1128.7 L987.9,1144.9 L988.6,1141.5 L989.2,1153.6 L989.9,1144.3 L990.5,1149.3 L991.2,1148.1 L991.8,1150.8 L992.5,1158.0 L993.1,1141.4 L993.8,1130.0 L994.4,1127.0 L995.1,1159.3 L995.7,1148.4 L996.4,1144.2 L997.0,1138.7 L997.7,1155.0 L998.3,1148.7 L999.0,1145.4 L999.6,1141.8 L1000.3,1144.8 L1000.9,1135.2 L1001.6,1150.4 L1002.2,1156.0 L1002.9,1129.6 L1003.5,1133.6 L1004.2,1144.5 L1004.8,1144.0 L1005.5,1132.4 L1006.1,1139.9 L1006.8,1141.6 L1007.4,1123.2 L1008.1,1140.9 L1008.7,1143.9 L1009.4,1151.8 L1010.0,1150.5 L1010.7,1164.3 L1011.3,1146.7 L1012.0,1138.7 L1012.6,1140.6 L1013.3,1150.2 L1013.9,1145.5 L1014.6,1151.1 L1015.2,1137.4 L1015.9,1145.2 L1016.5,1148.2 L1017.2,1132.0 L1017.8,1143.1 L1018.5,1139.4 L1019.1,1150.8 L1019.8,1138.3 L1020.4,1145.4 L1021.1,1139.9 L1021.7,1147.1 L1022.4,1149.0 L1023.0,1141.3 L1023.7,1143.8 L1024.3,1144.2 L1025.0,1148.8 L1025.6,1139.5 L1026.3,1142.2 L1026.9,1138.0 L1027.6,1133.2 L1028.2,1142.0 L1028.9,1150.8 L1029.5,1133.0 L1030.2,1152.0 L1030.8,1132.8 L1031.5,1144.8 L1032.1,1141.8 L1032.8,1125.0 L1033.4,1139.0 L1034.1,1126.8 L1034.7,1139.3 L1035.4,1146.4 L1036.0,1156.7 L1036.7,1148.8 L1037.3,1130.9 L1038.0,1141.3 L1038.6,1157.3 L1039.3,1147.4 L1039.9,1145.9 L1040.6,1141.7 L1041.2,1142.3 L1041.9,1138.3 L1042.5,1146.9 L1043.2,1160.9 L1043.8,1143.6 L1044.5,1158.3 L1045.1,1155.5 L1045.8,1158.4 L1046.4,1150.0 L1047.1,1152.3 L1047.7,1169.4 L1048.4,1141.7 L1049.0,1157.9 L1049.7,1163.9 L1050.3,1155.2 L1051.0,1165.0 L1051.6,1127.2 L1052.3,1149.6 L1052.9,1143.1 L1053.6,1150.0 L1054.2,1153.1 L1054.9,1159.3 L1055.5,1149.6 L1056.2,1164.8 L1056.8,1146.1 L1057.5,1149.5 L1058.1,1169.6 L1058.8,1147.8 L1059.4,1148.7 L1060.1,1149.5 L1060.7,1156.8"/>
<path d="M228.7,1581.2 L229.3,1577.5 L230.0,1566.0 L230.7,1568.5 L231.3,1560.1 L232.0,1551.8 L232.6,1552.5 L233.3,1554.8 L233.9,1560.2 L234.6,1543.2 L235.2,1549.6 L235.9,1545.9 L236.5,1552.5 L237.2,1546.4 L237.8,1539.6 L238.5,1545.4 L239.1,1537.0 L239.8,1549.7 L240.4,1551.3 L241.1,1542.7 L241.7,1538.0 L242.4,1541.9 L243.0,1541.8 L243.7,1535.5 L244.3,1549.6 L245.0,1541.0 L245.6,1545.7 L246.3,1533.0 L246.9,1539.4 L247.6,1530.0 L248.2,1532.0 L248.9,1536.0 L249.5,1533.0 L250.2,1521.8 L250.8,1526.2 L251.5,1533.5 L252.1,1538.0 L252.8,1532.3 L253.4,1526.7 L254.1,1530.7 L254.7,1535.6 L255.4,1528.5 L256.0,1520.1 L256.7,1525.2 L257.3,1524.1 L258.0,1518.0 L258.6,1522.2 L259.3,1528.0 L259.9,1521.6 L260.6,1525.5 L261.2,1524.9 L261.9,1529.9 L262.5,1521.0 L263.2,1520.7 L263.8,1516.9 L264.5,1520.6 L265.1,1513.3 L265.8,1521.3 L266.4,1520.5 L267.1,1519.0 L267.7,1527.6 L268.4,1518.0 L269.0,1516.2 L269.7,1512.2 L270.3,1516.2 L271.0,1510.4 L271.6,1519.6 L272.3,1511.1 L272.9,1507.1 L273.6,1521.8 L274.2,1518.1 L274.9,1514.0 L275.5,1518.6 L276.2,1512.3 L276.8,1515.8 L277.5,1512.4 L278.1,1508.3 L278.8,1514.0 L279.4,1516.1 L280.1,1510.7 L280.7,1507.6 L281.4,1510.1 L282.0,1502.4 L282.7,1510.1 L283.3,1508.3 L284.0,1521.7 L284.6,1510.8 L285.3,1506.8 L285.9,1517.2 L286.6,1512.8 L287.2,1513.8 L287.9,1514.5 L288.5,1514.7 L289.2,1499.2 L289.8,1518.5 L290.5,1517.1 L291.1,1513.2 L291.8,1515.1 L292.4,1512.3 L293.1,1518.0 L293.7,1520.5 L294.4,1520.6 L295.0,1520.9 L295.7,1516.1 L296.3,1525.8 L297.0,1518.4 L297.6,1519.6 L298.3,1518.2 L298.9,1520.2 L299.6,1519.0 L300.2,1528.9 L300.9,1531.8 L301.5,1513.4 L302.2,1519.1 L302.8,1514.9 L303.5,1524.8 L304.1,1526.9 L304.8,1519.0 L305.4,1523.5 L306.1,1519.7 L306.7,1522.2 L307.4,1527.6 L308.0,1518.4 L308.7,1514.3 L309.3,1522.5 L310.0,1521.5 L310.6,1522.1 L311.3,1523.6 L311.9,1516.2 L312.6,1510.7 L313.2,1523.5 L313.9,1517.2 L314.5,1518.3 L315.2,1513.4 L315.8,1522.9 L316.5,1518.4 L317.1,1527.2 L317.8,1520.2 L318.4,1517.7 L319.1,1510.4 L319.7,1510.9 L320.4,1509.2 L321.0,1510.4 L321.7,1509.0 L322.3,1512.5 L323.0,1509.9 L323.6,1511.2 L324.3,1513.9 L324.9,1516.7 L325.6,1517.0 L326.2,1510.5 L326.9,1510.5 L327.5,1507.0 L328.2,1513.1 L328.8,1514.8 L329.5,1505.2 L330.1,1510.5 L330.8,1505.3 L331.4,1505.6 L332.1,1506.7 L332.7,1503.8 L333.4,1509.1 L334.0,1498.5 L334.7,1496.5 L335.3,1504.0 L336.0,1499.8 L336.6,1505.7 L337.3,1497.5 L337.9,1504.1 L338.6,1497.5 L339.2,1502.9 L339.9,1505.6 L340.5,1506.0 L341.2,1507.6 L341.8,1509.8 L342.5,1502.8 L343.1,1511.3 L343.8,1500.7 L344.4,1499.2 L345.1,1495.2 L345.7,1506.2 L346.4,1504.3 L347.0,1496.6 L347.7,1497.3 L348.3,1506.9 L349.0,1497.0 L349.6,1495.7 L350.3,1492.4 L350.9,1504.3 L351.6,1489.9 L352.2,1494.7 L352.9,1500.6 L353.5,1503.9 L354.2,1499.1 L354.8,1499.3 L355.5,1501.3 L356.1,1500.5 L356.8,1502.9 L357.4,1500.8 L358.1,1499.2 L358.7,1502.1 L359.4,1505.2 L360.0,1510.8 L360.7,1513.2 L361.3,1505.4 L362.0,1501.7 L362.6,1503.2 L363.3,1519.6 L363.9,1509.8 L364.6,1516.6 L365.2,1522.4 L365.9,1512.3 L366.5,1515.6 L367.2,1515.0 L367.8,1513.7 L368.5,1522.9 L369.1,1524.8 L369.8,1512.7 L370.4,1525.7 L371.1,1522.0 L371.7,1523.3 L372.4,1523.9 L373.0,1517.8 L373.7,1522.6 L374.3,1520.0 L375.0,1533.0 L375.6,1534.5 L376.3,1525.6 L376.9,1520.3 L377.6,1530.7 L378.2,1525.1 L378.9,1533.8 L379.5,1535.1 L380.2,1534.2 L380.8,1525.7 L381.5,1523.5 L382.1,1525.6 L382.8,1528.7 L383.4,1525.8 L384.1,1535.8 L384.7,1534.2 L385.4,1532.0 L386.0,1531.1 L386.7,1536.5 L387.3,1540.5 L388.0,1525.8 L388.6,1536.9 L389.3,1535.2 L389.9,1533.9 L390.6,1536.2 L391.2,1538.7 L391.9,1545.9 L392.5,1539.2 L393.2,1537.3 L393.8,1534.1 L394.5,1555.2 L395.1,1536.6 L395.8,1539.7 L396.4,1543.7 L397.1,1550.8 L397.7,1539.5 L398.4,1540.8 L399.0,1545.8 L399.7,1542.1 L400.3,1543.5 L401.0,1544.6 L401.6,1541.5 L402.3,1544.6 L402.9,1542.1 L403.6,1548.4 L404.2,1545.8 L404.9,1536.0 L405.5,1542.8 L406.2,1548.6 L406.8,1542.9 L407.5,1542.0 L408.1,1548.4 L408.8,1539.4 L409.4,1544.5 L410.1,1546.9 L410.7,1548.0 L411.4,1539.5 L412.0,1538.4 L412.7,1550.2 L413.3,1539.8 L414.0,1556.5 L414.6,1558.2 L415.3,1540.2 L415.9,1532.3 L416.6,1557.3 L417.2,1546.1 L417.9,1543.1 L418.5,1553.8 L419.2,1541.3 L419.8,1538.1 L420.5,1542.0 L421.1,1540.9 L421.8,1545.1 L422.4,1546.5 L423.1,1558.4 L423.7,1537.0 L424.4,1541.1 L425.0,1533.3 L425.7,1553.0 L426.3,1539.7 L427.0,1544.5 L427.6,1550.2 L428.3,1550.6 L428.9,1550.3 L429.6,1542.4 L430.2,1543.4 L430.9,1548.8 L431.5,1551.0 L432.2,1530.8 L432.8,1544.4 L433.5,1545.6 L434.1,1551.3 L434.8,1542.1 L435.4,1558.9 L436.1,1547.3 L436.7,1549.6 L437.4,1556.6 L438.0,1549.3 L438.7,1549.7 L439.3,1545.4 L440.0,1548.1 L440.6,1541.0 L441.3,1545.1 L441.9,1545.2 L442.6,1540.3 L443.2,1548.8 L443.9,1545.9 L444.5,1535.2 L445.2,1546.5 L445.8,1538.4 L446.5,1544.6 L447.1,1536.6 L447.8,1539.6 L448.4,1546.7 L449.1,1549.1 L449.7,1533.4 L450.4,1538.2 L451.0,1537.8 L451.7,1543.8 L452.3,1537.5 L453.0,1540.1 L453.6,1543.9 L454.3,1541.1 L454.9,1535.6 L455.6,1535.4 L456.2,1536.0 L456.9,1537.8 L457.5,1533.2 L458.2,1536.8 L458.8,1539.3 L459.5,1535.0 L460.1,1534.9 L460.8,1538.3 L461.4,1540.5 L462.1,1530.8 L462.7,1532.2 L463.4,1542.2 L464.0,1536.3 L464.7,1531.4 L465.3,1536.8 L466.0,1543.3 L466.6,1533.4 L467.3,1531.8 L467.9,1534.8 L468.6,1543.0 L469.2,1532.8 L469.9,1538.0 L470.5,1540.0 L471.2,1536.8 L471.8,1533.8 L472.5,1538.1 L473.1,1535.9 L473.8,1538.6 L474.4,1536.6 L475.1,1535.5 L475.7,1527.0 L476.4,1537.6 L477.0,1534.2 L477.7,1525.4 L478.3,1534.5 L479.0,1536.0 L479.6,1534.1 L480.3,1523.6 L480.9,1531.1 L481.6,1529.8 L482.2,1532.4 L482.9,1523.2 L483.5,1534.4 L484.2,1535.2 L484.8,1535.0 L485.5,1534.1 L486.1,1531.3 L486.8,1536.1 L487.4,1533.4 L488.1,1529.3 L488.7,1532.4 L489.4,1534.0 L490.0,1536.1 L490.7,1532.6 L491.3,1526.7 L492.0,1527.8 L492.6,1530.9 L493.3,1531.2 L493.9,1534.5 L494.6,1521.4 L495.2,1526.9 L495.9,1525.1 L496.5,1535.5 L497.2,1534.3 L497.8,1532.5 L498.5,1534.9 L499.1,1528.7 L499.8,1534.8 L500.4,1531.6 L501.1,1531.6 L501.7,1530.4 L502.4,1535.2 L503.0,1535.6 L503.7,1523.9 L504.3,1527.9 L505.0,1530.7 L505.6,1528.5 L506.3,1522.9 L506.9,1526.1 L507.6,1529.1 L508.2,1538.7 L508.9,1526.6 L509.5,1528.8 L510.2,1530.5 L510.8,1530.1 L511.5,1531.2 L512.1,1539.8 L512.8,1529.4 L513.4,1531.4 L514.1,1531.1 L514.7,1531.4 L515.4,1531.2 L516.0,1523.6 L516.7,1529.7 L517.3,1521.9 L518.0,1531.9 L518.6,1531.2 L519.3,1535.0 L519.9,1523.7 L520.6,1520.2 L521.2,1528.2 L521.9,1524.1 L522.5,1525.9 L523.2,1525.4 L523.8,1524.9 L524.5,1538.0 L525.1,1526.8 L525.8,1534.1 L526.4,1523.0 L527.1,1528.3 L527.7,1523.8 L528.4,1528.3 L529.0,1534.5 L529.7,1535.6 L530.3,1530.0 L531.0,1528.1 L531.6,1525.8 L532.3,1527.6 L532.9,1532.3 L533.6,1517.8 L534.2,1524.0 L534.9,1520.8 L535.5,1530.2 L536.2,1519.3 L536.8,1529.3 L537.5,1519.6 L538.1,1520.0 L538.8,1532.4 L539.4,1530.0 L540.1,1520.6 L540.7,1516.5 L541.4,1520.2 L542.0,1527.5 L542.7,1524.3 L543.3,1525.7 L544.0,1526.5 L544.6,1530.2 L545.3,1535.5 L545.9,1522.2 L546.6,1512.8 L547.2,1527.1 L547.9,1522.0 L548.5,1517.9 L549.2,1512.8 L549.8,1524.2 L550.5,1519.3 L551.1,1521.5 L551.8,1537.9 L552.4,1523.2 L553.1,1512.8 L553.7,1517.6 L554.4,1523.5 L555.0,1531.0 L555.7,1523.6 L556.3,1521.6 L557.0,1518.5 L557.6,1520.3 L558.3,1519.8 L558.9,1516.5 L559.6,1521.2 L560.2,1519.4 L560.9,1528.7 L561.5,1517.7 L562.2,1523.2 L562.8,1515.0 L563.5,1521.4 L564.1,1528.4 L564.8,1512.8 L565.4,1509.4 L566.1,1520.2 L566.7,1514.8 L567.4,1512.9 L568.0,1516.3 L568.7,1515.4 L569.3,1520.1 L570.0,1515.8 L570.6,1510.7 L571.3,1507.8 L571.9,1504.4 L572.6,1499.5 L573.2,1517.8 L573.9,1504.2 L574.5,1511.1 L575.2,1495.4 L575.8,1512.4 L576.5,1516.6 L577.1,1519.2 L577.8,1515.7 L578.4,1504.3 L579.1,1502.7 L579.7,1516.8 L580.4,1508.3 L581.0,1506.8 L581.7,1503.2 L582.3,1514.1 L583.0,1508.0 L583.6,1507.7 L584.3,1501.2 L584.9,1504.3 L585.6,1501.0 L586.2,1501.9 L586.9,1503.3 L587.5,1498.3 L588.2,1495.8 L588.8,1503.6 L589.5,1493.6 L590.1,1505.6 L590.8,1505.9 L591.4,1490.2 L592.1,1505.5 L592.7,1492.4 L593.4,1503.3 L594.0,1493.0 L594.7,1499.7 L595.3,1489.7 L596.0,1498.1 L596.6,1494.7 L597.3,1502.2 L597.9,1497.4 L598.6,1490.3 L599.2,1494.2 L599.9,1488.5 L600.5,1492.6 L601.2,1499.3 L601.8,1499.0 L602.5,1491.0 L603.1,1485.2 L603.8,1489.3 L604.4,1499.5 L605.1,1486.9 L605.7,1479.0 L606.4,1478.7 L607.0,1479.2 L607.7,1491.1 L608.3,1482.9 L609.0,1480.2 L609.6,1485.9 L610.3,1488.8 L610.9,1482.2 L611.6,1478.0 L612.2,1483.1 L612.9,1485.9 L613.5,1476.1 L614.2,1477.0 L614.8,1490.9 L615.5,1481.6 L616.1,1480.8 L616.8,1470.4 L617.4,1472.4 L618.1,1476.2 L618.7,1484.6 L619.4,1477.6 L620.0,1467.3 L620.7,1485.2 L621.3,1485.0 L622.0,1480.4 L622.6,1479.0 L623.3,1470.5 L623.9,1472.2 L624.6,1474.1 L625.2,1483.6 L625.9,1455.1 L626.5,1468.0 L627.2,1471.8 L627.8,1468.1 L628.5,1468.2 L629.1,1462.0 L629.8,1470.8 L630.4,1468.2 L631.1,1485.7 L631.7,1474.9 L632.4,1467.0 L633.0,1467.1 L633.7,1468.7 L634.3,1463.4 L635.0,1466.4 L635.6,1453.4 L636.3,1457.9 L636.9,1465.5 L637.6,1462.6 L638.2,1465.5 L638.9,1451.0 L639.5,1443.3 L640.2,1457.0 L640.8,1460.8 L641.5,1434.7 L642.1,1463.7 L642.8,1450.6 L643.4,1450.3 L644.1,1454.4 L644.7,1452.9 L645.4,1449.4 L646.0,1458.0 L646.7,1449.7 L647.3,1443.3 L648.0,1437.3 L648.6,1450.5 L649.3,1437.4 L649.9,1443.1 L650.6,1436.2 L651.2,1452.8 L651.9,1443.1 L652.5,1426.0 L653.2,1438.9 L653.8,1427.1 L654.5,1431.8 L655.1,1440.2 L655.8,1425.5 L656.4,1435.7 L657.1,1447.8 L657.7,1437.1 L658.4,1424.8 L659.0,1434.8 L659.7,1427.5 L660.3,1436.3 L661.0,1428.9 L661.6,1432.3 L662.3,1431.4 L662.9,1433.8 L663.6,1425.3 L664.2,1429.6 L664.9,1423.9 L665.5,1426.1 L666.2,1433.8 L666.8,1415.9 L667.5,1413.1 L668.1,1424.1 L668.8,1416.4 L669.4,1428.4 L670.1,1425.4 L670.7,1423.4 L671.4,1418.5 L672.0,1415.0 L672.7,1411.7 L673.3,1424.7 L674.0,1416.7 L674.6,1410.0 L675.3,1423.2 L675.9,1420.3 L676.6,1425.6 L677.2,1397.1 L677.9,1423.1 L678.5,1407.2 L679.2,1395.7 L679.8,1404.0 L680.5,1416.7 L681.1,1424.3 L681.8,1421.2 L682.4,1420.2 L683.1,1426.4 L683.7,1426.7 L684.4,1407.1 L685.0,1412.0 L685.7,1408.9 L686.3,1419.2 L687.0,1410.4 L687.6,1412.2 L688.3,1420.4 L688.9,1408.0 L689.6,1417.8 L690.2,1406.0 L690.9,1403.7 L691.5,1419.0 L692.2,1410.8 L692.8,1411.7 L693.5,1420.3 L694.1,1400.5 L694.8,1408.8 L695.4,1410.1 L696.1,1398.5 L696.7,1405.8 L697.4,1408.8 L698.0,1407.3 L698.7,1404.2 L699.3,1404.8 L700.0,1400.2 L700.6,1401.0 L701.3,1397.0 L701.9,1387.1 L702.6,1388.6 L703.2,1389.3 L703.9,1395.8 L704.5,1389.5 L705.2,1387.2 L705.8,1382.5 L706.5,1382.9 L707.1,1372.0 L707.8,1374.5 L708.4,1365.0 L709.1,1364.1 L709.7,1357.3 L710.4,1374.6 L711.0,1360.4 L711.7,1346.5 L712.3,1346.6 L713.0,1347.5 L713.6,1338.4 L714.3,1342.3 L714.9,1332.4 L715.6,1337.0 L716.2,1306.5 L716.9,1325.7 L717.5,1308.2 L718.2,1330.2 L718.8,1302.9 L719.5,1296.9 L720.1,1289.4 L720.8,1295.2 L721.4,1288.7 L722.1,1272.0 L722.7,1274.9 L723.4,1273.7 L724.0,1262.0 L724.7,1261.5 L725.3,1256.1 L726.0,1246.6 L726.6,1236.5 L727.3,1238.0 L727.9,1231.6 L728.6,1228.0 L729.2,1223.2 L729.9,1221.4 L730.5,1217.1 L731.2,1210.9 L731.8,1207.8 L732.5,1203.2 L733.1,1198.4 L733.8,1194.9 L734.4,1197.4 L735.1,1195.4 L735.7,1200.1 L736.4,1207.5 L737.0,1216.4 L737.7,1224.1 L738.3,1230.1 L739.0,1237.4 L739.6,1242.6 L740.3,1247.0 L740.9,1256.2 L741.6,1263.0 L742.2,1264.5 L742.9,1280.0 L743.5,1281.2 L744.2,1294.0 L744.8,1300.4 L745.5,1301.0 L746.1,1305.1 L746.8,1306.4 L747.4,1330.2 L748.1,1346.3 L748.7,1342.9 L749.4,1351.2 L750.0,1353.9 L750.7,1362.1 L751.3,1382.0 L752.0,1394.1 L752.6,1393.4 L753.3,1408.9 L753.9,1414.0 L754.6,1418.8 L755.2,1421.6 L755.9,1431.0 L756.5,1431.2 L757.2,1448.8 L757.8,1450.8 L758.5,1445.5 L759.1,1457.5 L759.8,1450.3 L760.4,1462.6 L761.1,1468.6 L761.7,1462.4 L762.4,1468.3 L763.0,1476.4 L763.7,1466.8 L764.3,1481.4 L765.0,1492.4 L765.6,1502.5 L766.3,1487.3 L766.9,1490.3 L767.6,1497.9 L768.2,1500.0 L768.9,1507.5 L769.5,1502.4 L770.2,1505.4 L770.8,1507.6 L771.5,1518.0 L772.1,1503.7 L772.8,1518.9 L773.4,1514.1 L774.1,1515.7 L774.7,1510.1 L775.4,1515.9 L776.0,1511.6 L776.7,1502.1 L777.3,1520.0 L778.0,1511.0 L778.6,1520.2 L779.3,1512.8 L779.9,1519.3 L780.6,1520.1 L781.2,1513.1 L781.9,1524.7 L782.5,1522.1 L783.2,1512.5 L783.8,1539.0 L784.5,1532.1 L785.1,1521.2 L785.8,1531.4 L786.4,1537.1 L787.1,1529.9 L787.7,1537.8 L788.4,1539.8 L789.0,1531.8 L789.7,1535.6 L790.3,1536.7 L791.0,1527.3 L791.6,1538.6 L792.3,1536.3 L792.9,1544.2 L793.6,1538.2 L794.2,1532.4 L794.9,1545.9 L795.5,1535.7 L796.2,1525.7 L796.8,1538.8 L797.5,1533.1 L798.1,1548.8 L798.8,1543.5 L799.4,1547.1 L800.1,1544.2 L800.7,1540.9 L801.4,1546.0 L802.0,1532.5 L802.7,1546.1 L803.3,1540.4 L804.0,1529.1 L804.6,1539.9 L805.3,1544.4 L805.9,1537.9 L806.6,1549.1 L807.2,1548.5 L807.9,1536.7 L808.5,1535.8 L809.2,1538.9 L809.8,1537.3 L810.5,1544.5 L811.1,1546.8 L811.8,1544.1 L812.4,1544.2 L813.1,1539.6 L813.7,1539.0 L814.4,1535.4 L815.0,1554.0 L815.7,1544.9 L816.3,1542.6 L817.0,1522.2 L817.6,1528.6 L818.3,1533.0 L818.9,1534.8 L819.6,1534.2 L820.2,1541.4 L820.9,1535.0 L821.5,1541.8 L822.2,1541.2 L822.8,1551.8 L823.5,1538.0 L824.1,1544.1 L824.8,1540.4 L825.4,1540.9 L826.1,1538.8 L826.7,1539.1 L827.4,1541.4 L828.0,1544.4 L828.7,1535.2 L829.3,1531.3 L830.0,1539.9 L830.6,1546.8 L831.3,1539.5 L831.9,1557.8 L832.6,1545.6 L833.2,1539.7 L833.9,1550.1 L834.5,1533.2 L835.2,1530.8 L835.8,1537.9 L836.5,1534.8 L837.1,1536.7 L837.8,1538.9 L838.4,1543.4 L839.1,1540.7 L839.7,1539.7 L840.4,1545.3 L841.0,1542.8 L841.7,1542.9 L842.3,1538.5 L843.0,1532.5 L843.6,1541.0 L844.3,1540.6 L844.9,1544.0 L845.6,1541.4 L846.2,1535.7 L846.9,1552.0 L847.5,1533.1 L848.2,1519.3 L848.8,1537.6 L849.5,1538.8 L850.1,1546.5 L850.8,1539.2 L851.4,1543.5 L852.1,1545.4 L852.7,1548.7 L853.4,1532.1 L854.0,1543.0 L854.7,1534.8 L855.3,1551.6 L856.0,1537.8 L856.6,1538.1 L857.3,1559.3 L857.9,1542.6 L858.6,1542.1 L859.2,1547.9 L859.9,1539.2 L860.5,1538.4 L861.2,1550.5 L861.8,1542.1 L862.5,1544.6 L863.1,1534.3 L863.8,1543.5 L864.4,1541.6 L865.1,1547.1 L865.7,1561.3 L866.4,1537.5 L867.0,1537.8 L867.7,1560.0 L868.3,1546.6 L869.0,1534.7 L869.6,1569.8 L870.3,1539.5 L870.9,1546.4 L871.6,1538.6 L872.2,1567.0 L872.9,1547.0 L873.5,1550.6 L874.2,1526.9 L874.8,1535.9 L875.5,1543.2 L876.1,1557.6 L876.8,1537.8 L877.4,1554.1 L878.1,1537.1 L878.7,1543.1 L879.4,1533.6 L880.0,1528.9 L880.7,1537.8 L881.3,1550.5 L882.0,1550.5 L882.6,1542.3 L883.3,1533.6 L883.9,1552.7 L884.6,1541.0 L885.2,1536.6 L885.9,1548.2 L886.5,1542.2 L887.2,1545.9 L887.8,1544.4 L888.5,1540.3 L889.1,1538.9 L889.8,1531.8 L890.4,1554.3 L891.1,1536.0 L891.7,1544.4 L892.4,1537.7 L893.0,1516.5 L893.7,1523.9 L894.3,1541.9 L895.0,1558.9 L895.6,1555.1 L896.3,1543.3 L896.9,1551.3 L897.6,1532.9 L898.2,1529.7 L898.9,1557.0 L899.5,1533.5 L900.2,1556.9 L900.8,1550.8 L901.5,1529.6 L902.1,1536.3 L902.8,1536.5 L903.4,1546.2 L904.1,1536.9 L904.7,1540.1 L905.4,1527.8 L906.0,1554.2 L906.7,1539.0 L907.3,1546.2 L908.0,1526.9 L908.6,1541.5 L909.3,1565.0 L909.9,1542.9 L910.6,1549.4 L911.2,1520.5 L911.9,1554.7 L912.5,1535.9 L913.2,1546.7 L913.8,1529.1 L914.5,1544.4 L915.1,1546.4 L915.8,1530.2 L916.4,1535.7 L917.1,1541.0 L917.7,1528.4 L918.4,1523.5 L919.0,1522.5 L919.7,1538.1 L920.3,1534.1 L921.0,1535.2 L921.6,1537.9 L922.3,1523.7 L922.9,1551.4 L923.6,1532.7 L924.2,1527.3 L924.9,1524.3 L925.5,1526.3 L926.2,1538.9 L926.8,1532.2 L927.5,1530.8 L928.1,1532.3 L928.8,1522.0 L929.4,1526.7 L930.1,1531.0 L930.7,1531.0 L931.4,1527.1 L932.0,1542.3 L932.7,1529.1 L933.3,1557.3 L934.0,1537.8 L934.6,1529.2 L935.3,1538.7 L935.9,1542.1 L936.6,1520.0 L937.2,1537.2 L937.9,1537.1 L938.5,1536.4 L939.2,1521.0 L939.8,1542.5 L940.5,1533.1 L941.1,1527.6 L941.8,1509.0 L942.4,1538.5 L943.1,1533.8 L943.7,1524.0 L944.4,1549.8 L945.0,1526.0 L945.7,1542.5 L946.3,1529.1 L947.0,1536.0 L947.6,1543.6 L948.3,1536.1 L948.9,1533.8 L949.6,1538.8 L950.2,1551.5 L950.9,1545.0 L951.5,1543.1 L952.2,1532.9 L952.8,1535.6 L953.5,1540.8 L954.1,1553.6 L954.8,1552.1 L955.4,1541.1 L956.1,1549.7 L956.7,1541.5 L957.4,1542.5 L958.0,1541.5 L958.7,1538.7 L959.3,1545.9 L960.0,1568.0 L960.6,1540.0 L961.3,1552.6 L961.9,1550.9 L962.6,1544.3 L963.2,1551.0 L963.9,1541.3 L964.5,1546.8 L965.2,1558.4 L965.8,1559.9 L966.5,1546.8 L967.1,1545.8 L967.8,1536.2 L968.4,1546.1 L969.1,1542.9 L969.7,1540.1 L970.4,1548.9 L971.0,1546.4 L971.7,1535.2 L972.3,1555.8 L973.0,1556.6 L973.6,1531.2 L974.3,1552.8 L974.9,1542.1 L975.6,1530.1 L976.2,1553.5 L976.9,1552.4 L977.5,1543.5 L978.2,1544.7 L978.8,1547.2 L979.5,1552.9 L980.1,1541.1 L980.8,1536.7 L981.4,1545.4 L982.1,1541.8 L982.7,1532.4 L983.4,1541.9 L984.0,1537.2 L984.7,1547.1 L985.3,1554.4 L986.0,1550.6 L986.6,1570.4 L987.3,1550.1 L987.9,1547.5 L988.6,1538.3 L989.2,1553.1 L989.9,1548.7 L990.5,1531.5 L991.2,1539.8 L991.8,1550.7 L992.5,1541.3 L993.1,1552.3 L993.8,1547.2 L994.4,1563.0 L995.1,1532.7 L995.7,1543.7 L996.4,1533.5 L997.0,1536.9 L997.7,1560.8 L998.3,1551.7 L999.0,1548.5 L999.6,1542.5 L1000.3,1542.9 L1000.9,1559.2 L1001.6,1535.1 L1002.2,1552.7 L1002.9,1561.8 L1003.5,1533.3 L1004.2,1542.6 L1004.8,1534.1 L1005.5,1540.0 L1006.1,1546.5 L1006.8,1540.9 L1007.4,1548.3 L1008.1,1523.8 L1008.7,1517.6 L1009.4,1543.3 L1010.0,1513.6 L1010.7,1510.5 L1011.3,1532.4 L1012.0,1530.6 L1012.6,1552.8 L1013.3,1551.9 L1013.9,1542.5 L1014.6,1535.9 L1015.2,1543.3 L1015.9,1530.1 L1016.5,1545.3 L1017.2,1531.9 L1017.8,1534.3 L1018.5,1537.9 L1019.1,1529.0 L1019.8,1560.1 L1020.4,1535.9 L1021.1,1524.5 L1021.7,1525.0 L1022.4,1527.0 L1023.0,1531.8 L1023.7,1536.8 L1024.3,1519.4 L1025.0,1528.3 L1025.6,1548.1 L1026.3,1528.5 L1026.9,1533.0 L1027.6,1529.6 L1028.2,1530.9 L1028.9,1533.9 L1029.5,1544.5 L1030.2,1543.9 L1030.8,1527.5 L1031.5,1524.4 L1032.1,1536.0 L1032.8,1526.8 L1033.4,1539.9 L1034.1,1541.6 L1034.7,1525.1 L1035.4,1513.5 L1036.0,1526.8 L1036.7,1531.1 L1037.3,1522.2 L1038.0,1535.3 L1038.6,1534.7 L1039.3,1533.6 L1039.9,1514.2 L1040.6,1528.0 L1041.2,1539.3 L1041.9,1517.9 L1042.5,1538.2 L1043.2,1554.1 L1043.8,1545.3 L1044.5,1534.1 L1045.1,1531.2 L1045.8,1536.6 L1046.4,1531.8 L1047.1,1519.8 L1047.7,1527.8 L1048.4,1530.9 L1049.0,1522.2 L1049.7,1537.4 L1050.3,1519.0 L1051.0,1539.8 L1051.6,1537.7 L1052.3,1522.4 L1052.9,1537.0 L1053.6,1531.5 L1054.2,1529.2 L1054.9,1522.6 L1055.5,1520.3 L1056.2,1521.9 L1056.8,1520.1 L1057.5,1535.0 L1058.1,1526.2 L1058.8,1553.3 L1059.4,1538.5 L1060.1,1545.5 L1060.7,1530.1"/>
<path d="M227.4,1933.2 L228.1,1925.3 L228.7,1933.0 L229.4,1917.6 L230.0,1916.9 L230.7,1905.6 L231.3,1909.6 L232.0,1909.8 L232.6,1912.1 L233.3,1908.9 L233.9,1904.4 L234.6,1908.2 L235.2,1907.2 L235.9,1911.2 L236.5,1901.2 L237.2,1911.3 L237.8,1913.6 L238.5,1923.0 L239.1,1902.0 L239.8,1911.4 L240.4,1904.2 L241.1,1904.6 L241.7,1904.4 L242.4,1906.2 L243.0,1912.3 L243.7,1910.8 L244.3,1907.8 L245.0,1905.7 L245.6,1907.1 L246.3,1906.3 L246.9,1910.0 L247.6,1903.3 L248.2,1905.6 L248.9,1904.5 L249.5,1904.0 L250.2,1904.5 L250.8,1903.4 L251.5,1907.6 L252.1,1900.5 L252.8,1907.0 L253.4,1898.2 L254.1,1896.9 L254.7,1899.0 L255.4,1899.7 L256.0,1898.9 L256.7,1902.8 L257.3,1901.6 L258.0,1898.1 L258.6,1893.8 L259.3,1894.2 L259.9,1900.3 L260.6,1894.4 L261.2,1887.1 L261.9,1892.5 L262.5,1889.2 L263.2,1896.4 L263.8,1890.5 L264.5,1900.7 L265.1,1893.4 L265.8,1890.8 L266.4,1888.2 L267.1,1894.2 L267.7,1888.7 L268.4,1885.9 L269.0,1891.9 L269.7,1889.3 L270.3,1894.3 L271.0,1888.6 L271.6,1876.1 L272.3,1892.0 L272.9,1880.0 L273.6,1876.7 L274.2,1895.9 L274.9,1885.8 L275.5,1882.4 L276.2,1881.1 L276.8,1890.9 L277.5,1885.8 L278.1,1883.8 L278.8,1889.0 L279.4,1895.2 L280.1,1887.4 L280.7,1889.0 L281.4,1889.1 L282.0,1890.1 L282.7,1890.3 L283.3,1882.5 L284.0,1884.8 L284.6,1882.5 L285.3,1882.9 L285.9,1891.3 L286.6,1884.2 L287.2,1886.3 L287.9,1883.9 L288.5,1884.8 L289.2,1891.4 L289.8,1886.4 L290.5,1886.8 L291.1,1891.8 L291.8,1892.4 L292.4,1894.2 L293.1,1891.9 L293.7,1883.6 L294.4,1894.4 L295.0,1893.9 L295.7,1904.7 L296.3,1877.3 L297.0,1880.7 L297.6,1885.9 L298.3,1894.6 L298.9,1891.5 L299.6,1889.3 L300.2,1895.3 L300.9,1890.6 L301.5,1881.7 L302.2,1887.2 L302.8,1894.7 L303.5,1902.9 L304.1,1886.4 L304.8,1893.0 L305.4,1899.6 L306.1,1895.7 L306.7,1891.2 L307.4,1886.3 L308.0,1884.4 L308.7,1888.6 L309.3,1889.9 L310.0,1881.0 L310.6,1883.0 L311.3,1891.3 L311.9,1887.6 L312.6,1885.5 L313.2,1886.5 L313.9,1884.2 L314.5,1891.5 L315.2,1894.3 L315.8,1895.9 L316.5,1889.7 L317.1,1889.8 L317.8,1893.1 L318.4,1899.7 L319.1,1893.4 L319.7,1892.4 L320.4,1881.8 L321.0,1880.1 L321.7,1891.2 L322.3,1886.8 L323.0,1886.9 L323.6,1883.0 L324.3,1881.0 L324.9,1892.8 L325.6,1888.4 L326.2,1881.3 L326.9,1887.6 L327.5,1887.0 L328.2,1887.7 L328.8,1895.3 L329.5,1885.0 L330.1,1879.4 L330.8,1880.8 L331.4,1882.3 L332.1,1887.6 L332.7,1886.1 L333.4,1886.7 L334.0,1882.6 L334.7,1887.0 L335.3,1882.9 L336.0,1880.5 L336.6,1883.7 L337.3,1880.0 L337.9,1887.1 L338.6,1881.5 L339.2,1891.0 L339.9,1886.3 L340.5,1886.2 L341.2,1884.4 L341.8,1883.4 L342.5,1872.8 L343.1,1888.8 L343.8,1879.5 L344.4,1887.4 L345.1,1885.8 L345.7,1882.3 L346.4,1881.9 L347.0,1878.2 L347.7,1882.0 L348.3,1884.8 L349.0,1880.6 L349.6,1876.5 L350.3,1879.4 L350.9,1882.9 L351.6,1886.7 L352.2,1868.8 L352.9,1882.5 L353.5,1876.7 L354.2,1885.3 L354.8,1881.4 L355.5,1880.3 L356.1,1885.6 L356.8,1884.4 L357.4,1884.1 L358.1,1877.3 L358.7,1880.7 L359.4,1877.0 L360.0,1887.0 L360.7,1887.8 L361.3,1893.4 L362.0,1891.6 L362.6,1890.3 L363.3,1902.7 L363.9,1889.6 L364.6,1889.3 L365.2,1893.7 L365.9,1900.0 L366.5,1897.3 L367.2,1898.1 L367.8,1896.2 L368.5,1909.2 L369.1,1900.9 L369.8,1899.9 L370.4,1905.1 L371.1,1902.8 L371.7,1906.0 L372.4,1913.6 L373.0,1896.2 L373.7,1908.2 L374.3,1907.1 L375.0,1908.2 L375.6,1913.2 L376.3,1912.2 L376.9,1908.5 L377.6,1906.2 L378.2,1910.1 L378.9,1914.8 L379.5,1915.0 L380.2,1910.9 L380.8,1903.4 L381.5,1916.3 L382.1,1909.9 L382.8,1906.2 L383.4,1910.4 L384.1,1912.5 L384.7,1912.7 L385.4,1909.2 L386.0,1911.4 L386.7,1910.3 L387.3,1905.0 L388.0,1912.3 L388.6,1910.6 L389.3,1915.9 L389.9,1913.5 L390.6,1918.8 L391.2,1917.8 L391.9,1919.0 L392.5,1920.6 L393.2,1918.4 L393.8,1914.6 L394.5,1921.7 L395.1,1911.3 L395.8,1915.4 L396.4,1919.4 L397.1,1914.1 L397.7,1918.5 L398.4,1911.5 L399.0,1912.6 L399.7,1917.5 L400.3,1918.2 L401.0,1920.4 L401.6,1914.6 L402.3,1916.2 L402.9,1917.7 L403.6,1917.0 L404.2,1909.0 L404.9,1912.4 L405.5,1921.8 L406.2,1909.7 L406.8,1918.5 L407.5,1913.9 L408.1,1920.7 L408.8,1912.9 L409.4,1916.9 L410.1,1915.6 L410.7,1917.0 L411.4,1922.4 L412.0,1910.8 L412.7,1923.4 L413.3,1914.9 L414.0,1918.2 L414.6,1905.9 L415.3,1923.8 L415.9,1914.8 L416.6,1916.8 L417.2,1924.4 L417.9,1915.1 L418.5,1925.0 L419.2,1917.4 L419.8,1923.9 L420.5,1919.0 L421.1,1921.4 L421.8,1917.4 L422.4,1921.7 L423.1,1931.7 L423.7,1922.8 L424.4,1922.2 L425.0,1917.8 L425.7,1904.0 L426.3,1926.6 L427.0,1912.8 L427.6,1914.6 L428.3,1930.9 L428.9,1923.5 L429.6,1922.4 L430.2,1924.7 L430.9,1927.4 L431.5,1927.7 L432.2,1921.9 L432.8,1932.6 L433.5,1923.4 L434.1,1919.6 L434.8,1921.3 L435.4,1923.5 L436.1,1922.5 L436.7,1923.6 L437.4,1926.1 L438.0,1909.6 L438.7,1921.2 L439.3,1929.3 L440.0,1927.6 L440.6,1922.0 L441.3,1922.5 L441.9,1939.6 L442.6,1931.5 L443.2,1924.0 L443.9,1935.4 L444.5,1925.6 L445.2,1930.9 L445.8,1927.9 L446.5,1928.6 L447.1,1924.1 L447.8,1924.6 L448.4,1934.1 L449.1,1915.8 L449.7,1929.1 L450.4,1921.9 L451.0,1926.0 L451.7,1926.6 L452.3,1918.9 L453.0,1931.4 L453.6,1925.0 L454.3,1931.2 L454.9,1920.9 L455.6,1929.1 L456.2,1935.2 L456.9,1933.6 L457.5,1912.9 L458.2,1925.1 L458.8,1907.3 L459.5,1921.0 L460.1,1921.0 L460.8,1920.3 L461.4,1922.9 L462.1,1918.9 L462.7,1916.6 L463.4,1924.2 L464.0,1919.6 L464.7,1922.8 L465.3,1919.2 L466.0,1917.1 L466.6,1918.0 L467.3,1922.3 L467.9,1921.1 L468.6,1914.9 L469.2,1923.5 L469.9,1919.3 L470.5,1927.8 L471.2,1921.4 L471.8,1904.2 L472.5,1928.1 L473.1,1919.1 L473.8,1915.0 L474.4,1919.7 L475.1,1919.4 L475.7,1921.9 L476.4,1922.3 L477.0,1934.5 L477.7,1918.8 L478.3,1919.3 L479.0,1916.2 L479.6,1910.2 L480.3,1916.1 L480.9,1924.1 L481.6,1908.3 L482.2,1922.5 L482.9,1917.2 L483.5,1900.0 L484.2,1915.9 L484.8,1923.8 L485.5,1919.5 L486.1,1922.6 L486.8,1920.3 L487.4,1910.7 L488.1,1917.8 L488.7,1917.2 L489.4,1912.5 L490.0,1918.0 L490.7,1913.2 L491.3,1912.4 L492.0,1909.5 L492.6,1917.4 L493.3,1913.7 L493.9,1913.3 L494.6,1910.7 L495.2,1909.9 L495.9,1912.8 L496.5,1920.2 L497.2,1900.3 L497.8,1930.3 L498.5,1919.2 L499.1,1918.2 L499.8,1912.0 L500.4,1927.5 L501.1,1911.5 L501.7,1921.5 L502.4,1927.6 L503.0,1919.0 L503.7,1917.2 L504.3,1920.9 L505.0,1925.8 L505.6,1928.3 L506.3,1925.0 L506.9,1917.0 L507.6,1919.0 L508.2,1923.3 L508.9,1916.1 L509.5,1921.0 L510.2,1935.5 L510.8,1916.7 L511.5,1924.8 L512.1,1917.1 L512.8,1919.9 L513.4,1921.2 L514.1,1914.2 L514.7,1921.0 L515.4,1927.9 L516.0,1925.0 L516.7,1924.8 L517.3,1917.3 L518.0,1918.5 L518.6,1922.0 L519.3,1924.2 L519.9,1927.2 L520.6,1915.3 L521.2,1928.3 L521.9,1918.0 L522.5,1916.8 L523.2,1912.7 L523.8,1911.1 L524.5,1916.9 L525.1,1911.6 L525.8,1916.1 L526.4,1915.6 L527.1,1915.2 L527.7,1926.1 L528.4,1911.9 L529.0,1921.4 L529.7,1915.8 L530.3,1918.5 L531.0,1907.2 L531.6,1916.9 L532.3,1915.7 L532.9,1920.6 L533.6,1909.9 L534.2,1922.6 L534.9,1910.3 L535.5,1922.4 L536.2,1918.6 L536.8,1911.8 L537.5,1926.4 L538.1,1909.2 L538.8,1914.2 L539.4,1915.9 L540.1,1917.3 L540.7,1915.6 L541.4,1918.4 L542.0,1916.5 L542.7,1914.2 L543.3,1910.5 L544.0,1912.2 L544.6,1918.5 L545.3,1907.8 L545.9,1914.2 L546.6,1902.9 L547.2,1909.6 L547.9,1904.4 L548.5,1919.1 L549.2,1903.1 L549.8,1911.1 L550.5,1916.0 L551.1,1915.2 L551.8,1916.0 L552.4,1917.4 L553.1,1914.3 L553.7,1916.1 L554.4,1911.4 L555.0,1911.4 L555.7,1902.1 L556.3,1911.7 L557.0,1917.0 L557.6,1906.0 L558.3,1904.0 L558.9,1909.2 L559.6,1914.2 L560.2,1921.5 L560.9,1899.5 L561.5,1893.4 L562.2,1903.0 L562.8,1907.4 L563.5,1893.5 L564.1,1909.5 L564.8,1902.0 L565.4,1904.4 L566.1,1901.6 L566.7,1896.2 L567.4,1903.5 L568.0,1897.2 L568.7,1895.2 L569.3,1901.5 L570.0,1896.9 L570.6,1893.1 L571.3,1901.4 L571.9,1877.7 L572.6,1896.1 L573.2,1900.3 L573.9,1901.6 L574.5,1903.3 L575.2,1906.0 L575.8,1896.8 L576.5,1893.6 L577.1,1906.9 L577.8,1905.8 L578.4,1896.8 L579.1,1902.2 L579.7,1910.3 L580.4,1889.9 L581.0,1903.7 L581.7,1899.8 L582.3,1890.8 L583.0,1906.8 L583.6,1905.4 L584.3,1894.2 L584.9,1891.7 L585.6,1887.4 L586.2,1897.6 L586.9,1895.5 L587.5,1901.8 L588.2,1897.7 L588.8,1894.1 L589.5,1895.4 L590.1,1889.0 L590.8,1904.0 L591.4,1894.2 L592.1,1900.2 L592.7,1892.9 L593.4,1896.5 L594.0,1899.2 L594.7,1893.8 L595.3,1894.5 L596.0,1907.1 L596.6,1883.4 L597.3,1896.5 L597.9,1892.5 L598.6,1888.2 L599.2,1899.1 L599.9,1893.5 L600.5,1894.0 L601.2,1877.4 L601.8,1890.9 L602.5,1893.4 L603.1,1895.8 L603.8,1886.3 L604.4,1893.1 L605.1,1887.0 L605.7,1878.0 L606.4,1889.8 L607.0,1888.7 L607.7,1874.5 L608.3,1883.0 L609.0,1875.6 L609.6,1867.3 L610.3,1879.5 L610.9,1866.8 L611.6,1873.3 L612.2,1860.5 L612.9,1868.6 L613.5,1871.4 L614.2,1873.7 L614.8,1870.3 L615.5,1867.7 L616.1,1867.6 L616.8,1881.9 L617.4,1869.7 L618.1,1871.7 L618.7,1883.4 L619.4,1861.1 L620.0,1858.7 L620.7,1862.8 L621.3,1868.2 L622.0,1863.2 L622.6,1869.6 L623.3,1868.9 L623.9,1859.5 L624.6,1869.7 L625.2,1859.4 L625.9,1872.5 L626.5,1869.3 L627.2,1881.5 L627.8,1869.0 L628.5,1865.9 L629.1,1869.2 L629.8,1867.8 L630.4,1860.0 L631.1,1857.1 L631.7,1873.4 L632.4,1875.9 L633.0,1870.2 L633.7,1863.8 L634.3,1856.0 L635.0,1871.2 L635.6,1879.9 L636.3,1857.5 L636.9,1860.3 L637.6,1858.2 L638.2,1862.3 L638.9,1865.2 L639.5,1866.4 L640.2,1856.7 L640.8,1851.2 L641.5,1860.8 L642.1,1860.6 L642.8,1853.7 L643.4,1856.7 L644.1,1857.5 L644.7,1860.5 L645.4,1854.3 L646.0,1856.4 L646.7,1853.4 L647.3,1844.6 L648.0,1855.2 L648.6,1842.0 L649.3,1855.5 L649.9,1835.7 L650.6,1839.9 L651.2,1845.2 L651.9,1828.6 L652.5,1837.8 L653.2,1833.7 L653.8,1832.4 L654.5,1832.4 L655.1,1817.2 L655.8,1832.6 L656.4,1831.9 L657.1,1838.1 L657.7,1840.1 L658.4,1831.5 L659.0,1837.5 L659.7,1810.2 L660.3,1831.3 L661.0,1835.1 L661.6,1833.1 L662.3,1847.7 L662.9,1823.4 L663.6,1823.1 L664.2,1825.8 L664.9,1828.8 L665.5,1826.1 L666.2,1824.8 L666.8,1816.2 L667.5,1839.3 L668.1,1819.3 L668.8,1805.8 L669.4,1836.4 L670.1,1833.2 L670.7,1826.9 L671.4,1832.5 L672.0,1828.2 L672.7,1818.4 L673.3,1825.1 L674.0,1814.8 L674.6,1818.9 L675.3,1817.2 L675.9,1809.9 L676.6,1831.4 L677.2,1818.7 L677.9,1826.8 L678.5,1807.6 L679.2,1815.3 L679.8,1827.0 L680.5,1829.9 L681.1,1829.6 L681.8,1830.3 L682.4,1810.0 L683.1,1818.1 L683.7,1802.7 L684.4,1820.2 L685.0,1822.8 L685.7,1821.7 L686.3,1813.5 L687.0,1822.9 L687.6,1821.3 L688.3,1819.6 L688.9,1818.3 L689.6,1818.1 L690.2,1818.0 L690.9,1819.1 L691.5,1821.5 L692.2,1816.6 L692.8,1806.0 L693.5,1814.3 L694.1,1818.7 L694.8,1812.4 L695.4,1808.8 L696.1,1809.6 L696.7,1823.4 L697.4,1829.6 L698.0,1812.1 L698.7,1814.9 L699.3,1813.2 L700.0,1819.8 L700.6,1810.8 L701.3,1806.2 L701.9,1800.7 L702.6,1796.8 L703.2,1786.1 L703.9,1792.5 L704.5,1789.1 L705.2,1778.5 L705.8,1790.7 L706.5,1777.3 L707.1,1766.0 L707.8,1767.0 L708.4,1768.5 L709.1,1761.9 L709.7,1752.4 L710.4,1766.2 L711.0,1738.9 L711.7,1741.8 L712.3,1743.4 L713.0,1730.9 L713.6,1735.7 L714.3,1732.0 L714.9,1717.1 L715.6,1699.2 L716.2,1717.3 L716.9,1699.5 L717.5,1688.8 L718.2,1701.8 L718.8,1691.0 L719.5,1671.7 L720.1,1673.4 L720.8,1674.0 L721.4,1665.5 L722.1,1658.7 L722.7,1656.6 L723.4,1646.7 L724.0,1640.3 L724.7,1639.0 L725.3,1632.2 L726.0,1628.2 L726.6,1625.0 L727.3,1619.8 L727.9,1615.1 L728.6,1610.0 L729.2,1607.3 L729.9,1606.4 L730.5,1604.0 L731.2,1605.8 L731.8,1610.9 L732.5,1615.2 L733.1,1621.5 L733.8,1627.0 L734.4,1632.9 L735.1,1638.8 L735.7,1645.7 L736.4,1654.5 L737.0,1658.5 L737.7,1670.9 L738.3,1677.9 L739.0,1680.2 L739.6,1689.8 L740.3,1702.1 L740.9,1710.1 L741.6,1730.8 L742.2,1733.5 L742.9,1762.4 L743.5,1749.4 L744.2,1759.6 L744.8,1787.0 L745.5,1777.9 L746.1,1807.5 L746.8,1781.4 L747.4,1807.5 L748.1,1829.4 L748.7,1837.5 L749.4,1851.6 L750.0,1834.2 L750.7,1843.1 L751.3,1853.8 L752.0,1855.7 L752.6,1864.4 L753.3,1841.8 L753.9,1871.0 L754.6,1879.4 L755.2,1886.6 L755.9,1879.5 L756.5,1881.3 L757.2,1879.4 L757.8,1880.7 L758.5,1881.5 L759.1,1884.8 L759.8,1886.9 L760.4,1885.7 L761.1,1883.4 L761.7,1885.7 L762.4,1884.0 L763.0,1881.6 L763.7,1880.6 L764.3,1877.6 L765.0,1875.3 L765.6,1864.3 L766.3,1860.1 L766.9,1842.8 L767.6,1839.9 L768.2,1816.4 L768.9,1809.4 L769.5,1790.3 L770.2,1771.9 L770.8,1749.3 L771.5,1726.9 L772.1,1690.4 L772.8,1652.0 L773.4,1626.9 L774.1,1606.9 L774.7,1587.8 L775.4,1578.4 L776.0,1584.1 L776.7,1604.3 L777.3,1628.8 L778.0,1661.8 L778.6,1710.8 L779.3,1748.7 L779.9,1781.7 L780.6,1804.9 L781.2,1823.0 L781.9,1836.6 L782.5,1848.2 L783.2,1865.4 L783.8,1869.6 L784.5,1876.0 L785.1,1870.5 L785.8,1891.2 L786.4,1889.3 L787.1,1900.5 L787.7,1900.6 L788.4,1894.8 L789.0,1901.0 L789.7,1903.3 L790.3,1902.9 L791.0,1899.9 L791.6,1913.4 L792.3,1929.5 L792.9,1910.2 L793.6,1921.4 L794.2,1911.0 L794.9,1911.6 L795.5,1914.0 L796.2,1912.5 L796.8,1920.9 L797.5,1922.3 L798.1,1894.1 L798.8,1920.0 L799.4,1917.3 L800.1,1926.0 L800.7,1908.9 L801.4,1915.5 L802.0,1922.6 L802.7,1920.6 L803.3,1924.8 L804.0,1909.9 L804.6,1910.7 L805.3,1919.2 L805.9,1906.4 L806.6,1918.4 L807.2,1921.6 L807.9,1917.5 L808.5,1905.9 L809.2,1910.6 L809.8,1911.7 L810.5,1901.9 L811.1,1916.1 L811.8,1909.1 L812.4,1900.1 L813.1,1898.7 L813.7,1904.0 L814.4,1903.7 L815.0,1906.4 L815.7,1903.4 L816.3,1899.6 L817.0,1906.7 L817.6,1912.3 L818.3,1910.8 L818.9,1914.8 L819.6,1903.6 L820.2,1903.5 L820.9,1901.3 L821.5,1909.0 L822.2,1912.9 L822.8,1915.3 L823.5,1907.9 L824.1,1919.8 L824.8,1911.3 L825.4,1905.4 L826.1,1898.5 L826.7,1910.8 L827.4,1902.5 L828.0,1894.9 L828.7,1904.1 L829.3,1899.4 L830.0,1902.1 L830.6,1899.8 L831.3,1902.4 L831.9,1900.1 L832.6,1903.4 L833.2,1908.4 L833.9,1905.8 L834.5,1904.0 L835.2,1911.4 L835.8,1893.9 L836.5,1905.1 L837.1,1912.4 L837.8,1907.7 L838.4,1900.4 L839.1,1896.2 L839.7,1911.3 L840.4,1897.1 L841.0,1910.3 L841.7,1903.2 L842.3,1907.2 L843.0,1894.4 L843.6,1905.1 L844.3,1885.7 L844.9,1902.2 L845.6,1905.1 L846.2,1902.3 L846.9,1908.3 L847.5,1904.7 L848.2,1901.4 L848.8,1905.0 L849.5,1897.0 L850.1,1908.7 L850.8,1918.7 L851.4,1904.8 L852.1,1901.4 L852.7,1898.0 L853.4,1895.1 L854.0,1900.3 L854.7,1907.9 L855.3,1884.0 L856.0,1894.6 L856.6,1925.6 L857.3,1902.8 L857.9,1899.6 L858.6,1903.6 L859.2,1899.3 L859.9,1901.0 L860.5,1901.3 L861.2,1892.0 L861.8,1905.3 L862.5,1901.5 L863.1,1908.7 L863.8,1901.1 L864.4,1908.3 L865.1,1900.2 L865.7,1924.1 L866.4,1909.2 L867.0,1910.7 L867.7,1897.0 L868.3,1887.7 L869.0,1897.7 L869.6,1904.4 L870.3,1901.3 L870.9,1895.3 L871.6,1893.7 L872.2,1889.5 L872.9,1895.7 L873.5,1904.4 L874.2,1904.6 L874.8,1904.3 L875.5,1897.3 L876.1,1900.5 L876.8,1898.8 L877.4,1902.6 L878.1,1901.5 L878.7,1904.3 L879.4,1898.1 L880.0,1898.5 L880.7,1910.8 L881.3,1908.5 L882.0,1880.9 L882.6,1901.4 L883.3,1901.2 L883.9,1905.0 L884.6,1879.5 L885.2,1883.1 L885.9,1893.6 L886.5,1899.3 L887.2,1887.4 L887.8,1910.9 L888.5,1906.0 L889.1,1902.9 L889.8,1904.7 L890.4,1887.6 L891.1,1896.4 L891.7,1877.6 L892.4,1906.2 L893.0,1907.6 L893.7,1901.0 L894.3,1888.5 L895.0,1897.2 L895.6,1905.0 L896.3,1885.3 L896.9,1897.6 L897.6,1901.4 L898.2,1887.8 L898.9,1878.2 L899.5,1893.7 L900.2,1899.9 L900.8,1905.3 L901.5,1894.6 L902.1,1883.1 L902.8,1890.8 L903.4,1885.1 L904.1,1887.8 L904.7,1893.8 L905.4,1902.4 L906.0,1882.8 L906.7,1904.9 L907.3,1876.4 L908.0,1886.4 L908.6,1888.4 L909.3,1869.6 L909.9,1874.2 L910.6,1885.9 L911.2,1890.0 L911.9,1893.0 L912.5,1889.9 L913.2,1886.4 L913.8,1876.9 L914.5,1889.2 L915.1,1913.7 L915.8,1892.2 L916.4,1881.9 L917.1,1873.3 L917.7,1891.2 L918.4,1898.3 L919.0,1882.0 L919.7,1891.1 L920.3,1883.2 L921.0,1883.4 L921.6,1885.0 L922.3,1881.8 L922.9,1885.8 L923.6,1887.3 L924.2,1874.0 L924.9,1883.4 L925.5,1898.1 L926.2,1884.5 L926.8,1868.1 L927.5,1897.7 L928.1,1882.9 L928.8,1886.6 L929.4,1889.9 L930.1,1881.8 L930.7,1876.4 L931.4,1879.0 L932.0,1888.0 L932.7,1885.6 L933.3,1883.2 L934.0,1905.0 L934.6,1888.4 L935.3,1895.0 L935.9,1905.6 L936.6,1888.3 L937.2,1883.9 L937.9,1885.4 L938.5,1888.9 L939.2,1903.8 L939.8,1897.2 L940.5,1885.6 L941.1,1882.0 L941.8,1893.3 L942.4,1902.2 L943.1,1880.2 L943.7,1899.1 L944.4,1887.4 L945.0,1884.4 L945.7,1882.0 L946.3,1878.2 L947.0,1880.2 L947.6,1895.7 L948.3,1872.4 L948.9,1881.4 L949.6,1885.2 L950.2,1875.5 L950.9,1881.3 L951.5,1872.9 L952.2,1890.7 L952.8,1890.5 L953.5,1872.0 L954.1,1896.3 L954.8,1874.2 L955.4,1865.8 L956.1,1876.3 L956.7,1886.2 L957.4,1861.0 L958.0,1881.0 L958.7,1872.7 L959.3,1880.6 L960.0,1878.9 L960.6,1892.3 L961.3,1877.6 L961.9,1902.1 L962.6,1873.4 L963.2,1879.3 L963.9,1899.4 L964.5,1884.4 L965.2,1903.0 L965.8,1883.7 L966.5,1877.1 L967.1,1886.0 L967.8,1888.5 L968.4,1872.4 L969.1,1893.4 L969.7,1875.2 L970.4,1869.9 L971.0,1889.4 L971.7,1877.8 L972.3,1891.5 L973.0,1899.7 L973.6,1890.4 L974.3,1881.7 L974.9,1892.0 L975.6,1894.4 L976.2,1892.4 L976.9,1908.0 L977.5,1920.3 L978.2,1881.6 L978.8,1900.4 L979.5,1880.3 L980.1,1897.2 L980.8,1897.1 L981.4,1894.3 L982.1,1877.5 L982.7,1888.3 L983.4,1888.4 L984.0,1895.4 L984.7,1890.3 L985.3,1895.2 L986.0,1887.4 L986.6,1875.4 L987.3,1865.8 L987.9,1901.9 L988.6,1881.3 L989.2,1879.6 L989.9,1871.2 L990.5,1905.3 L991.2,1878.9 L991.8,1902.8 L992.5,1890.1 L993.1,1887.7 L993.8,1889.7 L994.4,1906.0 L995.1,1904.6 L995.7,1893.9 L996.4,1885.5 L997.0,1902.8 L997.7,1896.0 L998.3,1907.9 L999.0,1894.8 L999.6,1883.4 L1000.3,1897.1 L1000.9,1887.9 L1001.6,1888.1 L1002.2,1879.5 L1002.9,1890.6 L1003.5,1893.2 L1004.2,1875.6 L1004.8,1891.4 L1005.5,1892.2 L1006.1,1899.7 L1006.8,1898.0 L1007.4,1882.4 L1008.1,1899.0 L1008.7,1892.9 L1009.4,1886.8 L1010.0,1882.2 L1010.7,1897.9 L1011.3,1897.8 L1012.0,1886.8 L1012.6,1890.9 L1013.3,1888.4 L1013.9,1885.6 L1014.6,1884.8 L1015.2,1899.2 L1015.9,1896.8 L1016.5,1897.8 L1017.2,1896.8 L1017.8,1895.6 L1018.5,1903.7 L1019.1,1880.9 L1019.8,1903.2 L1020.4,1885.9 L1021.1,1894.6 L1021.7,1897.7 L1022.4,1900.6 L1023.0,1901.3 L1023.7,1911.3 L1024.3,1913.0 L1025.0,1908.1 L1025.6,1903.9 L1026.3,1905.5 L1026.9,1895.9 L1027.6,1882.0 L1028.2,1906.1 L1028.9,1905.1 L1029.5,1877.7 L1030.2,1915.8 L1030.8,1906.1 L1031.5,1894.3 L1032.1,1898.3 L1032.8,1886.5 L1033.4,1903.2 L1034.1,1908.2 L1034.7,1916.1 L1035.4,1894.0 L1036.0,1915.5 L1036.7,1908.1 L1037.3,1905.4 L1038.0,1902.5 L1038.6,1909.6 L1039.3,1922.9 L1039.9,1919.6 L1040.6,1913.7 L1041.2,1899.6 L1041.9,1904.3 L1042.5,1902.5 L1043.2,1920.0 L1043.8,1899.7 L1044.5,1923.6 L1045.1,1927.0 L1045.8,1912.7 L1046.4,1905.3 L1047.1,1909.1 L1047.7,1902.4 L1048.4,1899.7 L1049.0,1914.0 L1049.7,1909.5 L1050.3,1920.6 L1051.0,1939.1 L1051.6,1917.6 L1052.3,1913.8 L1052.9,1915.6"/>
</g>
<rect x="136.15" y="59.25" width="981.70" height="2006.25" fill="none" stroke="#000" stroke-width="7.4"/>
<rect x="132.5" y="2065" width="7.4" height="18.9" fill="#000"/>
<rect x="284.9" y="2065" width="7.4" height="18.9" fill="#000"/>
<rect x="437.4" y="2065" width="7.4" height="18.9" fill="#000"/>
<rect x="589.8" y="2065" width="7.4" height="18.9" fill="#000"/>
<rect x="742.3" y="2065" width="7.4" height="18.9" fill="#000"/>
<rect x="894.8" y="2065" width="7.4" height="18.9" fill="#000"/>
<rect x="1047.2" y="2065" width="7.4" height="18.9" fill="#000"/>
<text transform="translate(120.80,2144.00) scale(1.0600,1)" font-size="49.45" font-weight="bold" fill="#000" >0</text>
<text transform="translate(247.06,2144.00) scale(1.0069,1)" font-size="49.45" font-weight="bold" fill="#000" >250</text>
<text transform="translate(399.31,2144.00) scale(1.0075,1)" font-size="49.45" font-weight="bold" fill="#000" >500</text>
<text transform="translate(551.27,2144.00) scale(1.0155,1)" font-size="49.45" font-weight="bold" fill="#000" >750</text>
<text transform="translate(690.55,2144.00) scale(1.0206,1)" font-size="49.45" font-weight="bold" fill="#000" >1000</text>
<text transform="translate(842.34,2144.00) scale(1.0215,1)" font-size="49.45" font-weight="bold" fill="#000" >1250</text>
<text transform="translate(995.75,2144.00) scale(1.0177,1)" font-size="49.45" font-weight="bold" fill="#000" >1500</text>
<text transform="translate(371.46,2225.90) scale(0.9815,1)" font-size="56.44" font-weight="bold" fill="#000" >Wavenumber</text>
<text transform="translate(730.53,2225.90) scale(0.9447,1)" font-size="56.44" font-weight="bold" fill="#000" >(cm</text>
<text transform="translate(825.95,2198.00) scale(1.0061,1)" font-size="38.55" font-weight="bold" fill="#000" >-1</text>
<text transform="translate(864.58,2225.90) scale(0.8353,1)" font-size="56.44" font-weight="bold" fill="#000" >)</text>
<g transform="rotate(-90)"><text transform="translate(-1353.59,78.00) scale(0.9378,1)" font-size="59.93" font-weight="bold" fill="#000" >Intensity</text><text transform="translate(-1108.55,78.00) scale(0.9514,1)" font-size="59.93" font-weight="bold" fill="#000" >(a.u)</text></g>
<text transform="translate(573.74,134.70) scale(1.0293,1)" font-size="58.47" font-weight="bold" fill="#0000c0" >798</text>
<text transform="translate(261.64,292.90) scale(1.0080,1)" font-size="58.47" font-weight="bold" fill="#0000c0" >271</text>
<text transform="translate(495.36,292.90) scale(1.0229,1)" font-size="58.47" font-weight="bold" fill="#0000c0" >688</text>
<text transform="translate(686.72,359.90) scale(0.9991,1)" font-size="59.49" font-weight="bold" fill="#0000c0" >971</text>
<text transform="translate(769.68,909.90) scale(1.0173,1)" font-size="58.47" font-weight="bold" fill="#0000c0" >1048</text>
<text transform="translate(896.99,445.05) scale(1.0216,1)" font-size="59.05" font-weight="bold" fill="#000" stroke="#fff" stroke-width="0.7">30W*</text>
<text transform="translate(896.23,755.05) scale(1.0269,1)" font-size="59.05" font-weight="bold" fill="#000" stroke="#fff" stroke-width="0.7">25W*</text>
<text transform="translate(896.73,1075.05) scale(1.0234,1)" font-size="59.05" font-weight="bold" fill="#000" stroke="#fff" stroke-width="0.7">20W*</text>
<text transform="translate(896.47,1480.05) scale(1.0253,1)" font-size="59.05" font-weight="bold" fill="#000" stroke="#fff" stroke-width="0.7">15W*</text>
<text transform="translate(896.47,1832.05) scale(1.0253,1)" font-size="59.05" font-weight="bold" fill="#000" stroke="#fff" stroke-width="0.7">10W*</text>
</svg></body></html>
